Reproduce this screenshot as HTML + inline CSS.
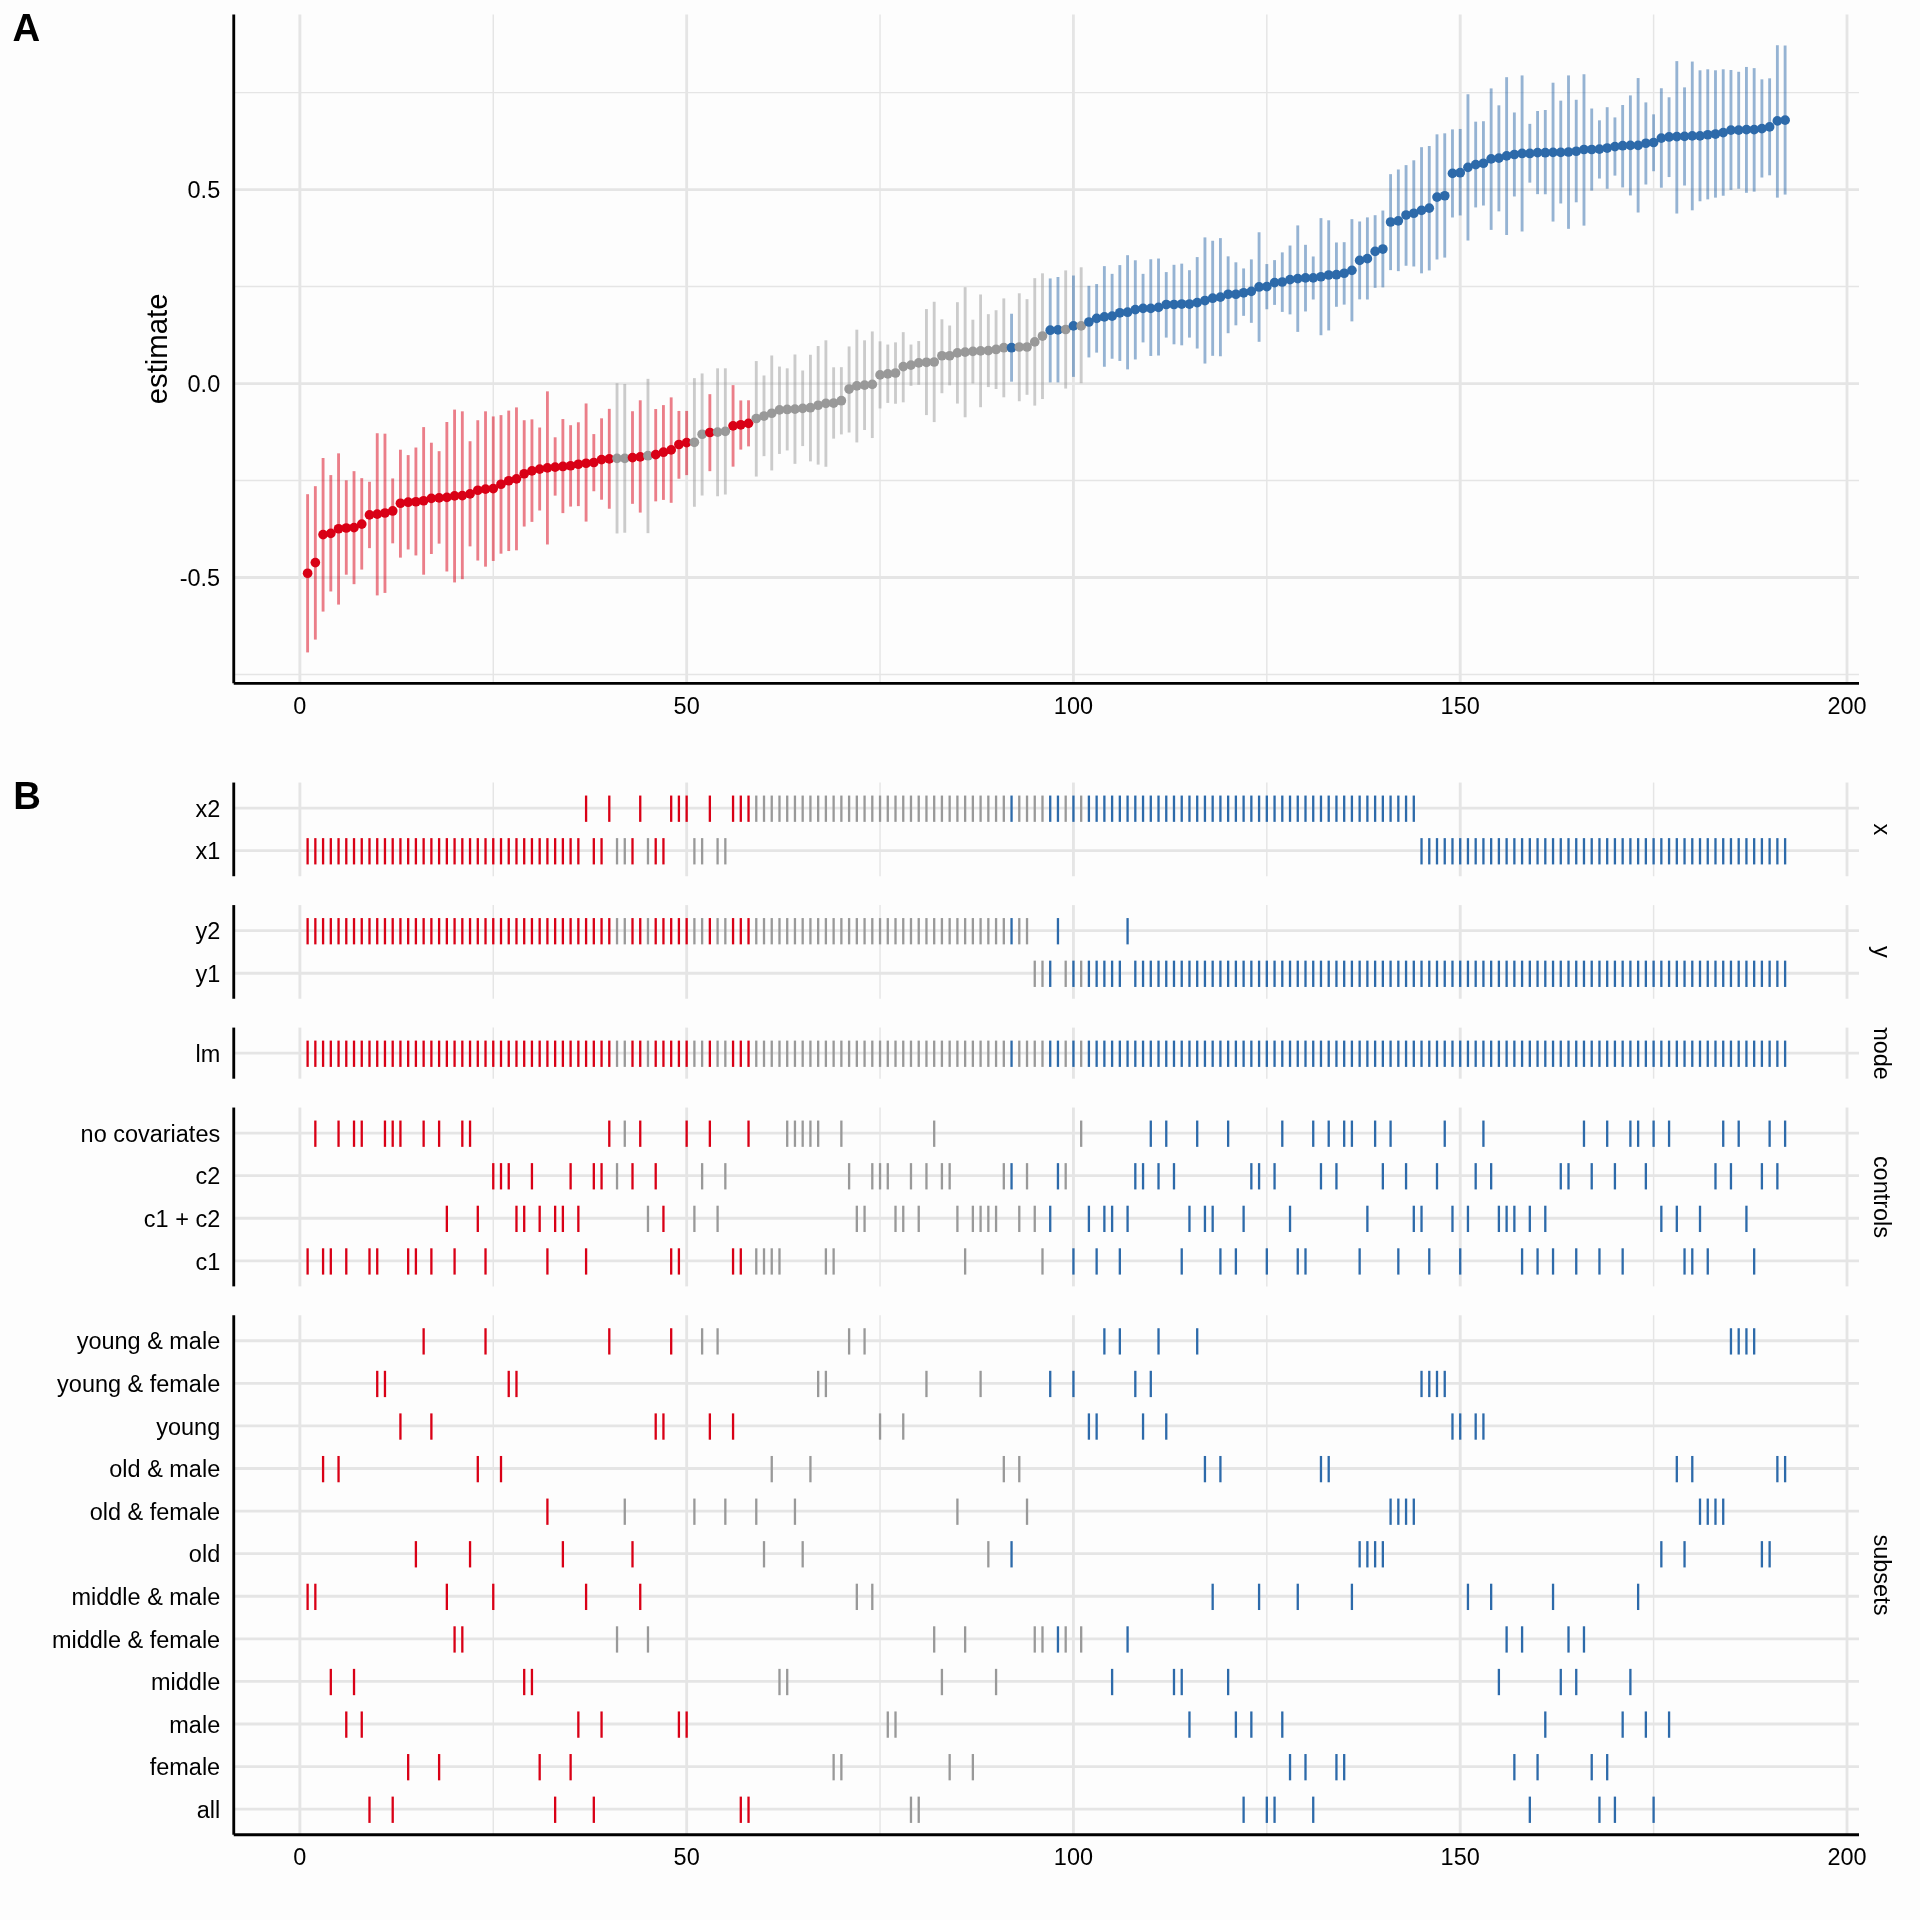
<!DOCTYPE html><html><head><meta charset="utf-8"><title>Specification curve</title><style>
html,body{margin:0;padding:0;background:#FDFDFD;}
svg{display:block;will-change:transform;}
text{font-family:"Liberation Sans", Arial, Helvetica, sans-serif;fill:#000;}
</style></head><body>
<svg width="1920" height="1920" viewBox="0 0 1920 1920">
<rect x="0" y="0" width="1920" height="1920" fill="#FDFDFD"/>
<g stroke="#E5E5E5" fill="none" stroke-linecap="butt">
<line x1="299.87" y1="14.5" x2="299.87" y2="683.3" stroke-width="2.85"/>
<line x1="493.26" y1="14.5" x2="493.26" y2="683.3" stroke-width="1.42"/>
<line x1="686.65" y1="14.5" x2="686.65" y2="683.3" stroke-width="2.85"/>
<line x1="880.04" y1="14.5" x2="880.04" y2="683.3" stroke-width="1.42"/>
<line x1="1073.43" y1="14.5" x2="1073.43" y2="683.3" stroke-width="2.85"/>
<line x1="1266.82" y1="14.5" x2="1266.82" y2="683.3" stroke-width="1.42"/>
<line x1="1460.21" y1="14.5" x2="1460.21" y2="683.3" stroke-width="2.85"/>
<line x1="1653.6" y1="14.5" x2="1653.6" y2="683.3" stroke-width="1.42"/>
<line x1="1846.99" y1="14.5" x2="1846.99" y2="683.3" stroke-width="2.85"/>
<line x1="234" y1="674.47" x2="1859" y2="674.47" stroke-width="1.42"/>
<line x1="234" y1="577.5" x2="1859" y2="577.5" stroke-width="2.85"/>
<line x1="234" y1="480.52" x2="1859" y2="480.52" stroke-width="1.42"/>
<line x1="234" y1="383.55" x2="1859" y2="383.55" stroke-width="2.85"/>
<line x1="234" y1="286.58" x2="1859" y2="286.58" stroke-width="1.42"/>
<line x1="234" y1="189.6" x2="1859" y2="189.6" stroke-width="2.85"/>
<line x1="234" y1="92.63" x2="1859" y2="92.63" stroke-width="1.42"/>
</g>
<g stroke="none">
<circle cx="307.61" cy="573.23" r="4.85" fill="#D90016"/>
<circle cx="315.34" cy="562.58" r="4.85" fill="#D90016"/>
<circle cx="323.08" cy="534.58" r="4.85" fill="#D90016"/>
<circle cx="330.81" cy="533.42" r="4.85" fill="#D90016"/>
<circle cx="338.55" cy="528.75" r="4.85" fill="#D90016"/>
<circle cx="346.28" cy="528.02" r="4.85" fill="#D90016"/>
<circle cx="354.02" cy="527.58" r="4.85" fill="#D90016"/>
<circle cx="361.75" cy="524.08" r="4.85" fill="#D90016"/>
<circle cx="369.49" cy="514.9" r="4.85" fill="#D90016"/>
<circle cx="377.23" cy="514.17" r="4.85" fill="#D90016"/>
<circle cx="384.96" cy="513" r="4.85" fill="#D90016"/>
<circle cx="392.7" cy="510.96" r="4.85" fill="#D90016"/>
<circle cx="400.43" cy="503.23" r="4.85" fill="#D90016"/>
<circle cx="408.17" cy="502.21" r="4.85" fill="#D90016"/>
<circle cx="415.9" cy="501.77" r="4.85" fill="#D90016"/>
<circle cx="423.64" cy="500.75" r="4.85" fill="#D90016"/>
<circle cx="431.38" cy="498.42" r="4.85" fill="#D90016"/>
<circle cx="439.11" cy="497.83" r="4.85" fill="#D90016"/>
<circle cx="446.85" cy="497.4" r="4.85" fill="#D90016"/>
<circle cx="454.58" cy="495.94" r="4.85" fill="#D90016"/>
<circle cx="462.32" cy="495.62" r="4.85" fill="#D90016"/>
<circle cx="470.05" cy="493.88" r="4.85" fill="#D90016"/>
<circle cx="477.79" cy="490.23" r="4.85" fill="#D90016"/>
<circle cx="485.52" cy="489.06" r="4.85" fill="#D90016"/>
<circle cx="493.26" cy="488.62" r="4.85" fill="#D90016"/>
<circle cx="501" cy="484.25" r="4.85" fill="#D90016"/>
<circle cx="508.73" cy="480.75" r="4.85" fill="#D90016"/>
<circle cx="516.47" cy="478.85" r="4.85" fill="#D90016"/>
<circle cx="524.2" cy="473.75" r="4.85" fill="#D90016"/>
<circle cx="531.94" cy="470.83" r="4.85" fill="#D90016"/>
<circle cx="539.67" cy="469.08" r="4.85" fill="#D90016"/>
<circle cx="547.41" cy="467.92" r="4.85" fill="#D90016"/>
<circle cx="555.14" cy="467.19" r="4.85" fill="#D90016"/>
<circle cx="562.88" cy="466.46" r="4.85" fill="#D90016"/>
<circle cx="570.62" cy="465.73" r="4.85" fill="#D90016"/>
<circle cx="578.35" cy="464.27" r="4.85" fill="#D90016"/>
<circle cx="586.09" cy="463.25" r="4.85" fill="#D90016"/>
<circle cx="593.82" cy="462.52" r="4.85" fill="#D90016"/>
<circle cx="601.56" cy="459.6" r="4.85" fill="#D90016"/>
<circle cx="609.29" cy="458.88" r="4.85" fill="#D90016"/>
<circle cx="617.03" cy="458.33" r="4.85" fill="#999999"/>
<circle cx="624.77" cy="458.33" r="4.85" fill="#999999"/>
<circle cx="632.5" cy="457.6" r="4.85" fill="#D90016"/>
<circle cx="640.24" cy="456.88" r="4.85" fill="#D90016"/>
<circle cx="647.97" cy="455.71" r="4.85" fill="#999999"/>
<circle cx="655.71" cy="454.69" r="4.85" fill="#D90016"/>
<circle cx="663.44" cy="452.21" r="4.85" fill="#D90016"/>
<circle cx="671.18" cy="449.88" r="4.85" fill="#D90016"/>
<circle cx="678.91" cy="444.48" r="4.85" fill="#D90016"/>
<circle cx="686.65" cy="442.58" r="4.85" fill="#D90016"/>
<circle cx="694.39" cy="442.29" r="4.85" fill="#999999"/>
<circle cx="702.12" cy="434.27" r="4.85" fill="#999999"/>
<circle cx="709.86" cy="432.52" r="4.85" fill="#D90016"/>
<circle cx="717.59" cy="432.08" r="4.85" fill="#999999"/>
<circle cx="725.33" cy="431.35" r="4.85" fill="#999999"/>
<circle cx="733.06" cy="425.81" r="4.85" fill="#D90016"/>
<circle cx="740.8" cy="424.79" r="4.85" fill="#D90016"/>
<circle cx="748.53" cy="423.33" r="4.85" fill="#D90016"/>
<circle cx="756.27" cy="418.52" r="4.85" fill="#999999"/>
<circle cx="764.01" cy="416.04" r="4.85" fill="#999999"/>
<circle cx="771.74" cy="413.25" r="4.85" fill="#999999"/>
<circle cx="779.48" cy="409.9" r="4.85" fill="#999999"/>
<circle cx="787.21" cy="409.46" r="4.85" fill="#999999"/>
<circle cx="794.95" cy="409.17" r="4.85" fill="#999999"/>
<circle cx="802.68" cy="408.44" r="4.85" fill="#999999"/>
<circle cx="810.42" cy="407.71" r="4.85" fill="#999999"/>
<circle cx="818.16" cy="405.23" r="4.85" fill="#999999"/>
<circle cx="825.89" cy="403.33" r="4.85" fill="#999999"/>
<circle cx="833.63" cy="403.04" r="4.85" fill="#999999"/>
<circle cx="841.36" cy="400.71" r="4.85" fill="#999999"/>
<circle cx="849.1" cy="389.04" r="4.85" fill="#999999"/>
<circle cx="856.83" cy="385.83" r="4.85" fill="#999999"/>
<circle cx="864.57" cy="385.1" r="4.85" fill="#999999"/>
<circle cx="872.3" cy="384.38" r="4.85" fill="#999999"/>
<circle cx="880.04" cy="374.9" r="4.85" fill="#999999"/>
<circle cx="887.78" cy="373.88" r="4.85" fill="#999999"/>
<circle cx="895.51" cy="373" r="4.85" fill="#999999"/>
<circle cx="903.25" cy="366.58" r="4.85" fill="#999999"/>
<circle cx="910.98" cy="365.12" r="4.85" fill="#999999"/>
<circle cx="918.72" cy="362.94" r="4.85" fill="#999999"/>
<circle cx="926.45" cy="362.29" r="4.85" fill="#999999"/>
<circle cx="934.19" cy="362" r="4.85" fill="#999999"/>
<circle cx="941.92" cy="355.73" r="4.85" fill="#999999"/>
<circle cx="949.66" cy="355.73" r="4.85" fill="#999999"/>
<circle cx="957.4" cy="352.81" r="4.85" fill="#999999"/>
<circle cx="965.13" cy="352.08" r="4.85" fill="#999999"/>
<circle cx="972.87" cy="351.35" r="4.85" fill="#999999"/>
<circle cx="980.6" cy="350.92" r="4.85" fill="#999999"/>
<circle cx="988.34" cy="350.62" r="4.85" fill="#999999"/>
<circle cx="996.07" cy="349.46" r="4.85" fill="#999999"/>
<circle cx="1003.81" cy="347.71" r="4.85" fill="#999999"/>
<circle cx="1011.55" cy="347.71" r="4.85" fill="#2D6AAA"/>
<circle cx="1019.28" cy="346.98" r="4.85" fill="#999999"/>
<circle cx="1027.02" cy="346.98" r="4.85" fill="#999999"/>
<circle cx="1034.75" cy="341.88" r="4.85" fill="#999999"/>
<circle cx="1042.49" cy="336.04" r="4.85" fill="#999999"/>
<circle cx="1050.22" cy="330.21" r="4.85" fill="#2D6AAA"/>
<circle cx="1057.96" cy="329.92" r="4.85" fill="#2D6AAA"/>
<circle cx="1065.69" cy="329.48" r="4.85" fill="#999999"/>
<circle cx="1073.43" cy="325.83" r="4.85" fill="#2D6AAA"/>
<circle cx="1081.17" cy="325.92" r="4.85" fill="#999999"/>
<circle cx="1088.9" cy="321.98" r="4.85" fill="#2D6AAA"/>
<circle cx="1096.64" cy="318.33" r="4.85" fill="#2D6AAA"/>
<circle cx="1104.37" cy="316.88" r="4.85" fill="#2D6AAA"/>
<circle cx="1112.11" cy="316.15" r="4.85" fill="#2D6AAA"/>
<circle cx="1119.84" cy="312.79" r="4.85" fill="#2D6AAA"/>
<circle cx="1127.58" cy="312.21" r="4.85" fill="#2D6AAA"/>
<circle cx="1135.31" cy="309.58" r="4.85" fill="#2D6AAA"/>
<circle cx="1143.05" cy="308.42" r="4.85" fill="#2D6AAA"/>
<circle cx="1150.79" cy="308.42" r="4.85" fill="#2D6AAA"/>
<circle cx="1158.52" cy="307.4" r="4.85" fill="#2D6AAA"/>
<circle cx="1166.26" cy="304.48" r="4.85" fill="#2D6AAA"/>
<circle cx="1173.99" cy="304.48" r="4.85" fill="#2D6AAA"/>
<circle cx="1181.73" cy="304.04" r="4.85" fill="#2D6AAA"/>
<circle cx="1189.46" cy="304.04" r="4.85" fill="#2D6AAA"/>
<circle cx="1197.2" cy="302.58" r="4.85" fill="#2D6AAA"/>
<circle cx="1204.94" cy="300.54" r="4.85" fill="#2D6AAA"/>
<circle cx="1212.67" cy="298.21" r="4.85" fill="#2D6AAA"/>
<circle cx="1220.41" cy="297.19" r="4.85" fill="#2D6AAA"/>
<circle cx="1228.14" cy="294.27" r="4.85" fill="#2D6AAA"/>
<circle cx="1235.88" cy="294.25" r="4.85" fill="#2D6AAA"/>
<circle cx="1243.61" cy="292.79" r="4.85" fill="#2D6AAA"/>
<circle cx="1251.35" cy="291.33" r="4.85" fill="#2D6AAA"/>
<circle cx="1259.08" cy="286.96" r="4.85" fill="#2D6AAA"/>
<circle cx="1266.82" cy="286.67" r="4.85" fill="#2D6AAA"/>
<circle cx="1274.56" cy="282.58" r="4.85" fill="#2D6AAA"/>
<circle cx="1282.29" cy="282" r="4.85" fill="#2D6AAA"/>
<circle cx="1290.03" cy="279.67" r="4.85" fill="#2D6AAA"/>
<circle cx="1297.76" cy="278.65" r="4.85" fill="#2D6AAA"/>
<circle cx="1305.5" cy="277.92" r="4.85" fill="#2D6AAA"/>
<circle cx="1313.23" cy="277.92" r="4.85" fill="#2D6AAA"/>
<circle cx="1320.97" cy="276.75" r="4.85" fill="#2D6AAA"/>
<circle cx="1328.7" cy="275" r="4.85" fill="#2D6AAA"/>
<circle cx="1336.44" cy="274.71" r="4.85" fill="#2D6AAA"/>
<circle cx="1344.18" cy="273.25" r="4.85" fill="#2D6AAA"/>
<circle cx="1351.91" cy="270.33" r="4.85" fill="#2D6AAA"/>
<circle cx="1359.65" cy="260.42" r="4.85" fill="#2D6AAA"/>
<circle cx="1367.38" cy="258.67" r="4.85" fill="#2D6AAA"/>
<circle cx="1375.12" cy="251.38" r="4.85" fill="#2D6AAA"/>
<circle cx="1382.85" cy="249.04" r="4.85" fill="#2D6AAA"/>
<circle cx="1390.59" cy="222" r="4.85" fill="#2D6AAA"/>
<circle cx="1398.33" cy="220.83" r="4.85" fill="#2D6AAA"/>
<circle cx="1406.06" cy="215" r="4.85" fill="#2D6AAA"/>
<circle cx="1413.8" cy="213.25" r="4.85" fill="#2D6AAA"/>
<circle cx="1421.53" cy="210.33" r="4.85" fill="#2D6AAA"/>
<circle cx="1429.27" cy="208.15" r="4.85" fill="#2D6AAA"/>
<circle cx="1437" cy="197.06" r="4.85" fill="#2D6AAA"/>
<circle cx="1444.74" cy="195.75" r="4.85" fill="#2D6AAA"/>
<circle cx="1452.47" cy="173.44" r="4.85" fill="#2D6AAA"/>
<circle cx="1460.21" cy="172.71" r="4.85" fill="#2D6AAA"/>
<circle cx="1467.95" cy="167.31" r="4.85" fill="#2D6AAA"/>
<circle cx="1475.68" cy="164.69" r="4.85" fill="#2D6AAA"/>
<circle cx="1483.42" cy="163.23" r="4.85" fill="#2D6AAA"/>
<circle cx="1491.15" cy="158.85" r="4.85" fill="#2D6AAA"/>
<circle cx="1498.89" cy="158.12" r="4.85" fill="#2D6AAA"/>
<circle cx="1506.62" cy="155.94" r="4.85" fill="#2D6AAA"/>
<circle cx="1514.36" cy="154.48" r="4.85" fill="#2D6AAA"/>
<circle cx="1522.09" cy="153.46" r="4.85" fill="#2D6AAA"/>
<circle cx="1529.83" cy="153.46" r="4.85" fill="#2D6AAA"/>
<circle cx="1537.57" cy="152.58" r="4.85" fill="#2D6AAA"/>
<circle cx="1545.3" cy="152.71" r="4.85" fill="#2D6AAA"/>
<circle cx="1553.04" cy="152.42" r="4.85" fill="#2D6AAA"/>
<circle cx="1560.77" cy="152.42" r="4.85" fill="#2D6AAA"/>
<circle cx="1568.51" cy="151.98" r="4.85" fill="#2D6AAA"/>
<circle cx="1576.24" cy="151.25" r="4.85" fill="#2D6AAA"/>
<circle cx="1583.98" cy="149.5" r="4.85" fill="#2D6AAA"/>
<circle cx="1591.72" cy="149.5" r="4.85" fill="#2D6AAA"/>
<circle cx="1599.45" cy="149.06" r="4.85" fill="#2D6AAA"/>
<circle cx="1607.19" cy="148.04" r="4.85" fill="#2D6AAA"/>
<circle cx="1614.92" cy="146.58" r="4.85" fill="#2D6AAA"/>
<circle cx="1622.66" cy="145.71" r="4.85" fill="#2D6AAA"/>
<circle cx="1630.39" cy="145.42" r="4.85" fill="#2D6AAA"/>
<circle cx="1638.13" cy="145.42" r="4.85" fill="#2D6AAA"/>
<circle cx="1645.86" cy="143.23" r="4.85" fill="#2D6AAA"/>
<circle cx="1653.6" cy="142.5" r="4.85" fill="#2D6AAA"/>
<circle cx="1661.34" cy="138.12" r="4.85" fill="#2D6AAA"/>
<circle cx="1669.07" cy="136.96" r="4.85" fill="#2D6AAA"/>
<circle cx="1676.81" cy="136.67" r="4.85" fill="#2D6AAA"/>
<circle cx="1684.54" cy="136.38" r="4.85" fill="#2D6AAA"/>
<circle cx="1692.28" cy="135.94" r="4.85" fill="#2D6AAA"/>
<circle cx="1700.01" cy="135.94" r="4.85" fill="#2D6AAA"/>
<circle cx="1707.75" cy="134.77" r="4.85" fill="#2D6AAA"/>
<circle cx="1715.48" cy="134.04" r="4.85" fill="#2D6AAA"/>
<circle cx="1723.22" cy="132.58" r="4.85" fill="#2D6AAA"/>
<circle cx="1730.96" cy="130.1" r="4.85" fill="#2D6AAA"/>
<circle cx="1738.69" cy="130.1" r="4.85" fill="#2D6AAA"/>
<circle cx="1746.43" cy="129.67" r="4.85" fill="#2D6AAA"/>
<circle cx="1754.16" cy="129.67" r="4.85" fill="#2D6AAA"/>
<circle cx="1761.9" cy="128.65" r="4.85" fill="#2D6AAA"/>
<circle cx="1769.63" cy="126.9" r="4.85" fill="#2D6AAA"/>
<circle cx="1777.37" cy="120.92" r="4.85" fill="#2D6AAA"/>
<circle cx="1785.11" cy="120.19" r="4.85" fill="#2D6AAA"/>
</g>
<g stroke-linecap="butt" stroke-opacity="0.5" stroke-width="2.85">
<line x1="307.61" y1="494.19" x2="307.61" y2="652.42" stroke="#D90016"/>
<line x1="315.34" y1="486.17" x2="315.34" y2="639.58" stroke="#D90016"/>
<line x1="323.08" y1="458.02" x2="323.08" y2="611.58" stroke="#D90016"/>
<line x1="330.81" y1="475.08" x2="330.81" y2="591.46" stroke="#D90016"/>
<line x1="338.55" y1="453.35" x2="338.55" y2="604.58" stroke="#D90016"/>
<line x1="346.28" y1="480.33" x2="346.28" y2="574.69" stroke="#D90016"/>
<line x1="354.02" y1="471.15" x2="354.02" y2="584.17" stroke="#D90016"/>
<line x1="361.75" y1="478.15" x2="361.75" y2="569.58" stroke="#D90016"/>
<line x1="369.49" y1="481.79" x2="369.49" y2="548.15" stroke="#D90016"/>
<line x1="377.23" y1="433.23" x2="377.23" y2="595.4" stroke="#D90016"/>
<line x1="384.96" y1="433.67" x2="384.96" y2="592.92" stroke="#D90016"/>
<line x1="392.7" y1="478.44" x2="392.7" y2="543.33" stroke="#D90016"/>
<line x1="400.43" y1="449.71" x2="400.43" y2="557.62" stroke="#D90016"/>
<line x1="408.17" y1="455.1" x2="408.17" y2="549.46" stroke="#D90016"/>
<line x1="415.9" y1="447.52" x2="415.9" y2="555.44" stroke="#D90016"/>
<line x1="423.64" y1="427.1" x2="423.64" y2="574.69" stroke="#D90016"/>
<line x1="431.38" y1="442.71" x2="431.38" y2="553.98" stroke="#D90016"/>
<line x1="439.11" y1="451.17" x2="439.11" y2="543.62" stroke="#D90016"/>
<line x1="446.85" y1="422" x2="446.85" y2="571.48" stroke="#D90016"/>
<line x1="454.58" y1="409.6" x2="454.58" y2="582.42" stroke="#D90016"/>
<line x1="462.32" y1="411.33" x2="462.32" y2="579.19" stroke="#D90016"/>
<line x1="470.05" y1="441.23" x2="470.05" y2="546.38" stroke="#D90016"/>
<line x1="477.79" y1="420.23" x2="477.79" y2="560.52" stroke="#D90016"/>
<line x1="485.52" y1="411.33" x2="485.52" y2="566.65" stroke="#D90016"/>
<line x1="493.26" y1="416.44" x2="493.26" y2="560.96" stroke="#D90016"/>
<line x1="501" y1="415.12" x2="501" y2="553.67" stroke="#D90016"/>
<line x1="508.73" y1="410.6" x2="508.73" y2="551.04" stroke="#D90016"/>
<line x1="516.47" y1="407.4" x2="516.47" y2="550.31" stroke="#D90016"/>
<line x1="524.2" y1="420.23" x2="524.2" y2="526.54" stroke="#D90016"/>
<line x1="531.94" y1="419.35" x2="531.94" y2="521.88" stroke="#D90016"/>
<line x1="539.67" y1="427.52" x2="539.67" y2="510.5" stroke="#D90016"/>
<line x1="547.41" y1="391.35" x2="547.41" y2="544.48" stroke="#D90016"/>
<line x1="555.14" y1="437.29" x2="555.14" y2="495.62" stroke="#D90016"/>
<line x1="562.88" y1="419.06" x2="562.88" y2="513.12" stroke="#D90016"/>
<line x1="570.62" y1="425.19" x2="570.62" y2="506.56" stroke="#D90016"/>
<line x1="578.35" y1="422.27" x2="578.35" y2="506.12" stroke="#D90016"/>
<line x1="586.09" y1="403.46" x2="586.09" y2="521.58" stroke="#D90016"/>
<line x1="593.82" y1="434.08" x2="593.82" y2="491.25" stroke="#D90016"/>
<line x1="601.56" y1="418.33" x2="601.56" y2="499.71" stroke="#D90016"/>
<line x1="609.29" y1="408.85" x2="609.29" y2="508.75" stroke="#D90016"/>
<line x1="617.03" y1="383.23" x2="617.03" y2="533.44" stroke="#999999"/>
<line x1="624.77" y1="383.96" x2="624.77" y2="532.71" stroke="#999999"/>
<line x1="632.5" y1="411.23" x2="632.5" y2="503.83" stroke="#D90016"/>
<line x1="640.24" y1="400.29" x2="640.24" y2="512.58" stroke="#D90016"/>
<line x1="647.97" y1="378.85" x2="647.97" y2="533.15" stroke="#999999"/>
<line x1="655.71" y1="409.04" x2="655.71" y2="501.35" stroke="#D90016"/>
<line x1="663.44" y1="405.1" x2="663.44" y2="499.9" stroke="#D90016"/>
<line x1="671.18" y1="397.38" x2="671.18" y2="502.81" stroke="#D90016"/>
<line x1="678.91" y1="410.94" x2="678.91" y2="478.75" stroke="#D90016"/>
<line x1="686.65" y1="410.94" x2="686.65" y2="475.1" stroke="#D90016"/>
<line x1="694.39" y1="378.12" x2="694.39" y2="506.75" stroke="#999999"/>
<line x1="702.12" y1="373.46" x2="702.12" y2="495.52" stroke="#999999"/>
<line x1="709.86" y1="394.17" x2="709.86" y2="471.17" stroke="#D90016"/>
<line x1="717.59" y1="368.35" x2="717.59" y2="496.25" stroke="#999999"/>
<line x1="725.33" y1="368.35" x2="725.33" y2="494.5" stroke="#999999"/>
<line x1="733.06" y1="385.12" x2="733.06" y2="466.65" stroke="#D90016"/>
<line x1="740.8" y1="400.44" x2="740.8" y2="449.58" stroke="#D90016"/>
<line x1="748.53" y1="400.29" x2="748.53" y2="446.38" stroke="#D90016"/>
<line x1="756.27" y1="361.06" x2="756.27" y2="476.56" stroke="#999999"/>
<line x1="764.01" y1="375.5" x2="764.01" y2="456.15" stroke="#999999"/>
<line x1="771.74" y1="355.5" x2="771.74" y2="470.42" stroke="#999999"/>
<line x1="779.48" y1="366.58" x2="779.48" y2="453.94" stroke="#999999"/>
<line x1="787.21" y1="368.33" x2="787.21" y2="450.44" stroke="#999999"/>
<line x1="794.95" y1="354.48" x2="794.95" y2="463.85" stroke="#999999"/>
<line x1="802.68" y1="370.52" x2="802.68" y2="446.06" stroke="#999999"/>
<line x1="810.42" y1="354.77" x2="810.42" y2="461.38" stroke="#999999"/>
<line x1="818.16" y1="346.02" x2="818.16" y2="464.58" stroke="#999999"/>
<line x1="825.89" y1="340.33" x2="825.89" y2="466.77" stroke="#999999"/>
<line x1="833.63" y1="367.31" x2="833.63" y2="438.62" stroke="#999999"/>
<line x1="841.36" y1="367.17" x2="841.36" y2="434.4" stroke="#999999"/>
<line x1="849.1" y1="346.46" x2="849.1" y2="432.5" stroke="#999999"/>
<line x1="856.83" y1="329.69" x2="856.83" y2="442.42" stroke="#999999"/>
<line x1="864.57" y1="340.33" x2="864.57" y2="430.02" stroke="#999999"/>
<line x1="872.3" y1="331.44" x2="872.3" y2="438.04" stroke="#999999"/>
<line x1="880.04" y1="341.35" x2="880.04" y2="408.44" stroke="#999999"/>
<line x1="887.78" y1="344.56" x2="887.78" y2="402.9" stroke="#999999"/>
<line x1="895.51" y1="342.38" x2="895.51" y2="403.77" stroke="#999999"/>
<line x1="903.25" y1="332.17" x2="903.25" y2="402.31" stroke="#999999"/>
<line x1="910.98" y1="344.56" x2="910.98" y2="385.83" stroke="#999999"/>
<line x1="918.72" y1="341.06" x2="918.72" y2="384.81" stroke="#999999"/>
<line x1="926.45" y1="309.06" x2="926.45" y2="415.08" stroke="#999999"/>
<line x1="934.19" y1="301.77" x2="934.19" y2="422.08" stroke="#999999"/>
<line x1="941.92" y1="319.27" x2="941.92" y2="393.21" stroke="#999999"/>
<line x1="949.66" y1="325.54" x2="949.66" y2="385.33" stroke="#999999"/>
<line x1="957.4" y1="302.21" x2="957.4" y2="403.56" stroke="#999999"/>
<line x1="965.13" y1="287.19" x2="965.13" y2="417.27" stroke="#999999"/>
<line x1="972.87" y1="319.71" x2="972.87" y2="383.44" stroke="#999999"/>
<line x1="980.6" y1="294.48" x2="980.6" y2="407.21" stroke="#999999"/>
<line x1="988.34" y1="314.17" x2="988.34" y2="387.08" stroke="#999999"/>
<line x1="996.07" y1="310.23" x2="996.07" y2="388.98" stroke="#999999"/>
<line x1="1003.81" y1="298.42" x2="1003.81" y2="397.29" stroke="#999999"/>
<line x1="1011.55" y1="313.73" x2="1011.55" y2="381.69" stroke="#2D6AAA"/>
<line x1="1019.28" y1="293.31" x2="1019.28" y2="401.23" stroke="#999999"/>
<line x1="1027.02" y1="299.15" x2="1027.02" y2="394.81" stroke="#999999"/>
<line x1="1034.75" y1="278.15" x2="1034.75" y2="405.6" stroke="#999999"/>
<line x1="1042.49" y1="273.33" x2="1042.49" y2="399.04" stroke="#999999"/>
<line x1="1050.22" y1="278.44" x2="1050.22" y2="382.42" stroke="#2D6AAA"/>
<line x1="1057.96" y1="276.98" x2="1057.96" y2="382.42" stroke="#2D6AAA"/>
<line x1="1065.69" y1="270.42" x2="1065.69" y2="388.54" stroke="#999999"/>
<line x1="1073.43" y1="275.52" x2="1073.43" y2="376.88" stroke="#2D6AAA"/>
<line x1="1081.17" y1="267.29" x2="1081.17" y2="383.23" stroke="#999999"/>
<line x1="1088.9" y1="285.81" x2="1088.9" y2="357.42" stroke="#2D6AAA"/>
<line x1="1096.64" y1="284.06" x2="1096.64" y2="352.6" stroke="#2D6AAA"/>
<line x1="1104.37" y1="266.12" x2="1104.37" y2="366.75" stroke="#2D6AAA"/>
<line x1="1112.11" y1="273.85" x2="1112.11" y2="358.73" stroke="#2D6AAA"/>
<line x1="1119.84" y1="265.1" x2="1119.84" y2="360.92" stroke="#2D6AAA"/>
<line x1="1127.58" y1="255.19" x2="1127.58" y2="369.38" stroke="#2D6AAA"/>
<line x1="1135.31" y1="260.29" x2="1135.31" y2="359.46" stroke="#2D6AAA"/>
<line x1="1143.05" y1="273.85" x2="1143.05" y2="342.4" stroke="#2D6AAA"/>
<line x1="1150.79" y1="259.27" x2="1150.79" y2="355.96" stroke="#2D6AAA"/>
<line x1="1158.52" y1="258.54" x2="1158.52" y2="355.52" stroke="#2D6AAA"/>
<line x1="1166.26" y1="272.1" x2="1166.26" y2="337.58" stroke="#2D6AAA"/>
<line x1="1173.99" y1="264.81" x2="1173.99" y2="344.29" stroke="#2D6AAA"/>
<line x1="1181.73" y1="263.65" x2="1181.73" y2="345.31" stroke="#2D6AAA"/>
<line x1="1189.46" y1="270.21" x2="1189.46" y2="337.58" stroke="#2D6AAA"/>
<line x1="1197.2" y1="257.08" x2="1197.2" y2="348.52" stroke="#2D6AAA"/>
<line x1="1204.94" y1="237.4" x2="1204.94" y2="363.54" stroke="#2D6AAA"/>
<line x1="1212.67" y1="240.75" x2="1212.67" y2="355.81" stroke="#2D6AAA"/>
<line x1="1220.41" y1="238.12" x2="1220.41" y2="356.25" stroke="#2D6AAA"/>
<line x1="1228.14" y1="256.35" x2="1228.14" y2="333.21" stroke="#2D6AAA"/>
<line x1="1235.88" y1="262.31" x2="1235.88" y2="325.31" stroke="#2D6AAA"/>
<line x1="1243.61" y1="268.44" x2="1243.61" y2="315.83" stroke="#2D6AAA"/>
<line x1="1251.35" y1="259.4" x2="1251.35" y2="322.83" stroke="#2D6AAA"/>
<line x1="1259.08" y1="232.27" x2="1259.08" y2="341.79" stroke="#2D6AAA"/>
<line x1="1266.82" y1="264.06" x2="1266.82" y2="309.27" stroke="#2D6AAA"/>
<line x1="1274.56" y1="260.12" x2="1274.56" y2="304.9" stroke="#2D6AAA"/>
<line x1="1282.29" y1="252.4" x2="1282.29" y2="311.9" stroke="#2D6AAA"/>
<line x1="1290.03" y1="245.54" x2="1290.03" y2="314.38" stroke="#2D6AAA"/>
<line x1="1297.76" y1="225.42" x2="1297.76" y2="331.88" stroke="#2D6AAA"/>
<line x1="1305.5" y1="244.81" x2="1305.5" y2="311.46" stroke="#2D6AAA"/>
<line x1="1313.23" y1="256.48" x2="1313.23" y2="299.5" stroke="#2D6AAA"/>
<line x1="1320.97" y1="218.12" x2="1320.97" y2="335.23" stroke="#2D6AAA"/>
<line x1="1328.7" y1="220.31" x2="1328.7" y2="330.42" stroke="#2D6AAA"/>
<line x1="1336.44" y1="242.48" x2="1336.44" y2="306.79" stroke="#2D6AAA"/>
<line x1="1344.18" y1="242.19" x2="1344.18" y2="304.6" stroke="#2D6AAA"/>
<line x1="1351.91" y1="219.15" x2="1351.91" y2="321.38" stroke="#2D6AAA"/>
<line x1="1359.65" y1="221.48" x2="1359.65" y2="299.35" stroke="#2D6AAA"/>
<line x1="1367.38" y1="217.4" x2="1367.38" y2="299.5" stroke="#2D6AAA"/>
<line x1="1375.12" y1="215.21" x2="1375.12" y2="287.83" stroke="#2D6AAA"/>
<line x1="1382.85" y1="210.54" x2="1382.85" y2="287.4" stroke="#2D6AAA"/>
<line x1="1390.59" y1="174.17" x2="1390.59" y2="270.12" stroke="#2D6AAA"/>
<line x1="1398.33" y1="169.5" x2="1398.33" y2="271.15" stroke="#2D6AAA"/>
<line x1="1406.06" y1="165.12" x2="1406.06" y2="265.75" stroke="#2D6AAA"/>
<line x1="1413.8" y1="160.31" x2="1413.8" y2="266.48" stroke="#2D6AAA"/>
<line x1="1421.53" y1="147.19" x2="1421.53" y2="273.33" stroke="#2D6AAA"/>
<line x1="1429.27" y1="146.02" x2="1429.27" y2="270.42" stroke="#2D6AAA"/>
<line x1="1437" y1="134.35" x2="1437" y2="259.48" stroke="#2D6AAA"/>
<line x1="1444.74" y1="133.33" x2="1444.74" y2="257.58" stroke="#2D6AAA"/>
<line x1="1452.47" y1="129.4" x2="1452.47" y2="217.48" stroke="#2D6AAA"/>
<line x1="1460.21" y1="128.96" x2="1460.21" y2="215.44" stroke="#2D6AAA"/>
<line x1="1467.95" y1="94.25" x2="1467.95" y2="240.52" stroke="#2D6AAA"/>
<line x1="1475.68" y1="121.67" x2="1475.68" y2="207.42" stroke="#2D6AAA"/>
<line x1="1483.42" y1="121.23" x2="1483.42" y2="205.52" stroke="#2D6AAA"/>
<line x1="1491.15" y1="88.42" x2="1491.15" y2="229.88" stroke="#2D6AAA"/>
<line x1="1498.89" y1="105.33" x2="1498.89" y2="211.35" stroke="#2D6AAA"/>
<line x1="1506.62" y1="77.19" x2="1506.62" y2="234.98" stroke="#2D6AAA"/>
<line x1="1514.36" y1="112.48" x2="1514.36" y2="196.48" stroke="#2D6AAA"/>
<line x1="1522.09" y1="75.44" x2="1522.09" y2="231.48" stroke="#2D6AAA"/>
<line x1="1529.83" y1="123.85" x2="1529.83" y2="182.62" stroke="#2D6AAA"/>
<line x1="1537.57" y1="111.02" x2="1537.57" y2="194.15" stroke="#2D6AAA"/>
<line x1="1545.3" y1="109.98" x2="1545.3" y2="194.27" stroke="#2D6AAA"/>
<line x1="1553.04" y1="82.71" x2="1553.04" y2="221.54" stroke="#2D6AAA"/>
<line x1="1560.77" y1="100.65" x2="1560.77" y2="203.46" stroke="#2D6AAA"/>
<line x1="1568.51" y1="75.42" x2="1568.51" y2="228.83" stroke="#2D6AAA"/>
<line x1="1576.24" y1="99.77" x2="1576.24" y2="202.29" stroke="#2D6AAA"/>
<line x1="1583.98" y1="74.25" x2="1583.98" y2="225.62" stroke="#2D6AAA"/>
<line x1="1591.72" y1="108.52" x2="1591.72" y2="190.62" stroke="#2D6AAA"/>
<line x1="1599.45" y1="120.33" x2="1599.45" y2="178.52" stroke="#2D6AAA"/>
<line x1="1607.19" y1="107.21" x2="1607.19" y2="188.73" stroke="#2D6AAA"/>
<line x1="1614.92" y1="117.42" x2="1614.92" y2="175.6" stroke="#2D6AAA"/>
<line x1="1622.66" y1="105.02" x2="1622.66" y2="187.42" stroke="#2D6AAA"/>
<line x1="1630.39" y1="95.4" x2="1630.39" y2="195.44" stroke="#2D6AAA"/>
<line x1="1638.13" y1="78.04" x2="1638.13" y2="212.5" stroke="#2D6AAA"/>
<line x1="1645.86" y1="102.4" x2="1645.86" y2="184.5" stroke="#2D6AAA"/>
<line x1="1653.6" y1="114.35" x2="1653.6" y2="171.23" stroke="#2D6AAA"/>
<line x1="1661.34" y1="88.25" x2="1661.34" y2="187.71" stroke="#2D6AAA"/>
<line x1="1669.07" y1="97.29" x2="1669.07" y2="177.06" stroke="#2D6AAA"/>
<line x1="1676.81" y1="61.12" x2="1676.81" y2="213.52" stroke="#2D6AAA"/>
<line x1="1684.54" y1="87.38" x2="1684.54" y2="185.52" stroke="#2D6AAA"/>
<line x1="1692.28" y1="61.56" x2="1692.28" y2="210.31" stroke="#2D6AAA"/>
<line x1="1700.01" y1="70.31" x2="1700.01" y2="201.27" stroke="#2D6AAA"/>
<line x1="1707.75" y1="69.29" x2="1707.75" y2="199.38" stroke="#2D6AAA"/>
<line x1="1715.48" y1="70.31" x2="1715.48" y2="197.62" stroke="#2D6AAA"/>
<line x1="1723.22" y1="69.29" x2="1723.22" y2="195.73" stroke="#2D6AAA"/>
<line x1="1730.96" y1="70.02" x2="1730.96" y2="189.9" stroke="#2D6AAA"/>
<line x1="1738.69" y1="71.77" x2="1738.69" y2="188.73" stroke="#2D6AAA"/>
<line x1="1746.43" y1="66.96" x2="1746.43" y2="192.81" stroke="#2D6AAA"/>
<line x1="1754.16" y1="68.12" x2="1754.16" y2="191.65" stroke="#2D6AAA"/>
<line x1="1761.9" y1="79.35" x2="1761.9" y2="177.5" stroke="#2D6AAA"/>
<line x1="1769.63" y1="78.33" x2="1769.63" y2="175.31" stroke="#2D6AAA"/>
<line x1="1777.37" y1="45.23" x2="1777.37" y2="197.62" stroke="#2D6AAA"/>
<line x1="1785.11" y1="45.52" x2="1785.11" y2="194.56" stroke="#2D6AAA"/>
</g>
<g stroke="#000" stroke-width="2.85" stroke-linecap="butt">
<line x1="233.75" y1="14.5" x2="233.75" y2="683.3"/>
<line x1="233.75" y1="683.3" x2="1859" y2="683.3"/>
</g>
<g font-size="23.47">
<text x="220.2" y="586.2" text-anchor="end">-0.5</text>
<text x="220.2" y="392.25" text-anchor="end">0.0</text>
<text x="220.2" y="198.3" text-anchor="end">0.5</text>
<text x="299.87" y="714.4" text-anchor="middle">0</text>
<text x="686.65" y="714.4" text-anchor="middle">50</text>
<text x="1073.43" y="714.4" text-anchor="middle">100</text>
<text x="1460.21" y="714.4" text-anchor="middle">150</text>
<text x="1846.99" y="714.4" text-anchor="middle">200</text>
</g>
<text font-size="29.33" text-anchor="middle" transform="translate(166.5 348.9) rotate(-90)">estimate</text>
<text x="12.6" y="40.9" font-size="38.3" font-weight="bold">A</text>
<text x="13.2" y="808.9" font-size="38.3" font-weight="bold">B</text>
<defs>
<clipPath id="cp0"><rect x="1860" y="782.55" width="60" height="93.68"/></clipPath>
<clipPath id="cp1"><rect x="1860" y="905.08" width="60" height="93.68"/></clipPath>
<clipPath id="cp2"><rect x="1860" y="1027.6" width="60" height="51.1"/></clipPath>
<clipPath id="cp3"><rect x="1860" y="1107.55" width="60" height="178.84"/></clipPath>
<clipPath id="cp4"><rect x="1860" y="1315.23" width="60" height="519.48"/></clipPath>
</defs>
<g stroke="#E5E5E5" fill="none" stroke-linecap="butt">
<line x1="299.87" y1="782.55" x2="299.87" y2="876.23" stroke-width="2.85"/>
<line x1="493.26" y1="782.55" x2="493.26" y2="876.23" stroke-width="1.42"/>
<line x1="686.65" y1="782.55" x2="686.65" y2="876.23" stroke-width="2.85"/>
<line x1="880.04" y1="782.55" x2="880.04" y2="876.23" stroke-width="1.42"/>
<line x1="1073.43" y1="782.55" x2="1073.43" y2="876.23" stroke-width="2.85"/>
<line x1="1266.82" y1="782.55" x2="1266.82" y2="876.23" stroke-width="1.42"/>
<line x1="1460.21" y1="782.55" x2="1460.21" y2="876.23" stroke-width="2.85"/>
<line x1="1653.6" y1="782.55" x2="1653.6" y2="876.23" stroke-width="1.42"/>
<line x1="1846.99" y1="782.55" x2="1846.99" y2="876.23" stroke-width="2.85"/>
<line x1="234" y1="808.1" x2="1859" y2="808.1" stroke-width="2.85"/>
<line x1="234" y1="850.68" x2="1859" y2="850.68" stroke-width="2.85"/>
</g>
<g stroke="none">
<rect x="584.94" y="795.55" width="2.3" height="26.3" fill="#D90016"/>
<rect x="608.14" y="795.55" width="2.3" height="26.3" fill="#D90016"/>
<rect x="639.09" y="795.55" width="2.3" height="26.3" fill="#D90016"/>
<rect x="670.03" y="795.55" width="2.3" height="26.3" fill="#D90016"/>
<rect x="677.76" y="795.55" width="2.3" height="26.3" fill="#D90016"/>
<rect x="685.5" y="795.55" width="2.3" height="26.3" fill="#D90016"/>
<rect x="708.71" y="795.55" width="2.3" height="26.3" fill="#D90016"/>
<rect x="731.91" y="795.55" width="2.3" height="26.3" fill="#D90016"/>
<rect x="739.65" y="795.55" width="2.3" height="26.3" fill="#D90016"/>
<rect x="747.38" y="795.55" width="2.3" height="26.3" fill="#D90016"/>
<rect x="755.12" y="795.55" width="2.3" height="26.3" fill="#999999"/>
<rect x="762.86" y="795.55" width="2.3" height="26.3" fill="#999999"/>
<rect x="770.59" y="795.55" width="2.3" height="26.3" fill="#999999"/>
<rect x="778.33" y="795.55" width="2.3" height="26.3" fill="#999999"/>
<rect x="786.06" y="795.55" width="2.3" height="26.3" fill="#999999"/>
<rect x="793.8" y="795.55" width="2.3" height="26.3" fill="#999999"/>
<rect x="801.53" y="795.55" width="2.3" height="26.3" fill="#999999"/>
<rect x="809.27" y="795.55" width="2.3" height="26.3" fill="#999999"/>
<rect x="817.01" y="795.55" width="2.3" height="26.3" fill="#999999"/>
<rect x="824.74" y="795.55" width="2.3" height="26.3" fill="#999999"/>
<rect x="832.48" y="795.55" width="2.3" height="26.3" fill="#999999"/>
<rect x="840.21" y="795.55" width="2.3" height="26.3" fill="#999999"/>
<rect x="847.95" y="795.55" width="2.3" height="26.3" fill="#999999"/>
<rect x="855.68" y="795.55" width="2.3" height="26.3" fill="#999999"/>
<rect x="863.42" y="795.55" width="2.3" height="26.3" fill="#999999"/>
<rect x="871.15" y="795.55" width="2.3" height="26.3" fill="#999999"/>
<rect x="878.89" y="795.55" width="2.3" height="26.3" fill="#999999"/>
<rect x="886.63" y="795.55" width="2.3" height="26.3" fill="#999999"/>
<rect x="894.36" y="795.55" width="2.3" height="26.3" fill="#999999"/>
<rect x="902.1" y="795.55" width="2.3" height="26.3" fill="#999999"/>
<rect x="909.83" y="795.55" width="2.3" height="26.3" fill="#999999"/>
<rect x="917.57" y="795.55" width="2.3" height="26.3" fill="#999999"/>
<rect x="925.3" y="795.55" width="2.3" height="26.3" fill="#999999"/>
<rect x="933.04" y="795.55" width="2.3" height="26.3" fill="#999999"/>
<rect x="940.77" y="795.55" width="2.3" height="26.3" fill="#999999"/>
<rect x="948.51" y="795.55" width="2.3" height="26.3" fill="#999999"/>
<rect x="956.25" y="795.55" width="2.3" height="26.3" fill="#999999"/>
<rect x="963.98" y="795.55" width="2.3" height="26.3" fill="#999999"/>
<rect x="971.72" y="795.55" width="2.3" height="26.3" fill="#999999"/>
<rect x="979.45" y="795.55" width="2.3" height="26.3" fill="#999999"/>
<rect x="987.19" y="795.55" width="2.3" height="26.3" fill="#999999"/>
<rect x="994.92" y="795.55" width="2.3" height="26.3" fill="#999999"/>
<rect x="1002.66" y="795.55" width="2.3" height="26.3" fill="#999999"/>
<rect x="1010.4" y="795.55" width="2.3" height="26.3" fill="#2D6AAA"/>
<rect x="1018.13" y="795.55" width="2.3" height="26.3" fill="#999999"/>
<rect x="1025.87" y="795.55" width="2.3" height="26.3" fill="#999999"/>
<rect x="1033.6" y="795.55" width="2.3" height="26.3" fill="#999999"/>
<rect x="1041.34" y="795.55" width="2.3" height="26.3" fill="#999999"/>
<rect x="1049.07" y="795.55" width="2.3" height="26.3" fill="#2D6AAA"/>
<rect x="1056.81" y="795.55" width="2.3" height="26.3" fill="#2D6AAA"/>
<rect x="1064.54" y="795.55" width="2.3" height="26.3" fill="#999999"/>
<rect x="1072.28" y="795.55" width="2.3" height="26.3" fill="#2D6AAA"/>
<rect x="1080.02" y="795.55" width="2.3" height="26.3" fill="#999999"/>
<rect x="1087.75" y="795.55" width="2.3" height="26.3" fill="#2D6AAA"/>
<rect x="1095.49" y="795.55" width="2.3" height="26.3" fill="#2D6AAA"/>
<rect x="1103.22" y="795.55" width="2.3" height="26.3" fill="#2D6AAA"/>
<rect x="1110.96" y="795.55" width="2.3" height="26.3" fill="#2D6AAA"/>
<rect x="1118.69" y="795.55" width="2.3" height="26.3" fill="#2D6AAA"/>
<rect x="1126.43" y="795.55" width="2.3" height="26.3" fill="#2D6AAA"/>
<rect x="1134.16" y="795.55" width="2.3" height="26.3" fill="#2D6AAA"/>
<rect x="1141.9" y="795.55" width="2.3" height="26.3" fill="#2D6AAA"/>
<rect x="1149.64" y="795.55" width="2.3" height="26.3" fill="#2D6AAA"/>
<rect x="1157.37" y="795.55" width="2.3" height="26.3" fill="#2D6AAA"/>
<rect x="1165.11" y="795.55" width="2.3" height="26.3" fill="#2D6AAA"/>
<rect x="1172.84" y="795.55" width="2.3" height="26.3" fill="#2D6AAA"/>
<rect x="1180.58" y="795.55" width="2.3" height="26.3" fill="#2D6AAA"/>
<rect x="1188.31" y="795.55" width="2.3" height="26.3" fill="#2D6AAA"/>
<rect x="1196.05" y="795.55" width="2.3" height="26.3" fill="#2D6AAA"/>
<rect x="1203.79" y="795.55" width="2.3" height="26.3" fill="#2D6AAA"/>
<rect x="1211.52" y="795.55" width="2.3" height="26.3" fill="#2D6AAA"/>
<rect x="1219.26" y="795.55" width="2.3" height="26.3" fill="#2D6AAA"/>
<rect x="1226.99" y="795.55" width="2.3" height="26.3" fill="#2D6AAA"/>
<rect x="1234.73" y="795.55" width="2.3" height="26.3" fill="#2D6AAA"/>
<rect x="1242.46" y="795.55" width="2.3" height="26.3" fill="#2D6AAA"/>
<rect x="1250.2" y="795.55" width="2.3" height="26.3" fill="#2D6AAA"/>
<rect x="1257.93" y="795.55" width="2.3" height="26.3" fill="#2D6AAA"/>
<rect x="1265.67" y="795.55" width="2.3" height="26.3" fill="#2D6AAA"/>
<rect x="1273.41" y="795.55" width="2.3" height="26.3" fill="#2D6AAA"/>
<rect x="1281.14" y="795.55" width="2.3" height="26.3" fill="#2D6AAA"/>
<rect x="1288.88" y="795.55" width="2.3" height="26.3" fill="#2D6AAA"/>
<rect x="1296.61" y="795.55" width="2.3" height="26.3" fill="#2D6AAA"/>
<rect x="1304.35" y="795.55" width="2.3" height="26.3" fill="#2D6AAA"/>
<rect x="1312.08" y="795.55" width="2.3" height="26.3" fill="#2D6AAA"/>
<rect x="1319.82" y="795.55" width="2.3" height="26.3" fill="#2D6AAA"/>
<rect x="1327.55" y="795.55" width="2.3" height="26.3" fill="#2D6AAA"/>
<rect x="1335.29" y="795.55" width="2.3" height="26.3" fill="#2D6AAA"/>
<rect x="1343.03" y="795.55" width="2.3" height="26.3" fill="#2D6AAA"/>
<rect x="1350.76" y="795.55" width="2.3" height="26.3" fill="#2D6AAA"/>
<rect x="1358.5" y="795.55" width="2.3" height="26.3" fill="#2D6AAA"/>
<rect x="1366.23" y="795.55" width="2.3" height="26.3" fill="#2D6AAA"/>
<rect x="1373.97" y="795.55" width="2.3" height="26.3" fill="#2D6AAA"/>
<rect x="1381.7" y="795.55" width="2.3" height="26.3" fill="#2D6AAA"/>
<rect x="1389.44" y="795.55" width="2.3" height="26.3" fill="#2D6AAA"/>
<rect x="1397.18" y="795.55" width="2.3" height="26.3" fill="#2D6AAA"/>
<rect x="1404.91" y="795.55" width="2.3" height="26.3" fill="#2D6AAA"/>
<rect x="1412.65" y="795.55" width="2.3" height="26.3" fill="#2D6AAA"/>
<rect x="306.46" y="838.13" width="2.3" height="26.3" fill="#D90016"/>
<rect x="314.19" y="838.13" width="2.3" height="26.3" fill="#D90016"/>
<rect x="321.93" y="838.13" width="2.3" height="26.3" fill="#D90016"/>
<rect x="329.66" y="838.13" width="2.3" height="26.3" fill="#D90016"/>
<rect x="337.4" y="838.13" width="2.3" height="26.3" fill="#D90016"/>
<rect x="345.13" y="838.13" width="2.3" height="26.3" fill="#D90016"/>
<rect x="352.87" y="838.13" width="2.3" height="26.3" fill="#D90016"/>
<rect x="360.6" y="838.13" width="2.3" height="26.3" fill="#D90016"/>
<rect x="368.34" y="838.13" width="2.3" height="26.3" fill="#D90016"/>
<rect x="376.08" y="838.13" width="2.3" height="26.3" fill="#D90016"/>
<rect x="383.81" y="838.13" width="2.3" height="26.3" fill="#D90016"/>
<rect x="391.55" y="838.13" width="2.3" height="26.3" fill="#D90016"/>
<rect x="399.28" y="838.13" width="2.3" height="26.3" fill="#D90016"/>
<rect x="407.02" y="838.13" width="2.3" height="26.3" fill="#D90016"/>
<rect x="414.75" y="838.13" width="2.3" height="26.3" fill="#D90016"/>
<rect x="422.49" y="838.13" width="2.3" height="26.3" fill="#D90016"/>
<rect x="430.23" y="838.13" width="2.3" height="26.3" fill="#D90016"/>
<rect x="437.96" y="838.13" width="2.3" height="26.3" fill="#D90016"/>
<rect x="445.7" y="838.13" width="2.3" height="26.3" fill="#D90016"/>
<rect x="453.43" y="838.13" width="2.3" height="26.3" fill="#D90016"/>
<rect x="461.17" y="838.13" width="2.3" height="26.3" fill="#D90016"/>
<rect x="468.9" y="838.13" width="2.3" height="26.3" fill="#D90016"/>
<rect x="476.64" y="838.13" width="2.3" height="26.3" fill="#D90016"/>
<rect x="484.37" y="838.13" width="2.3" height="26.3" fill="#D90016"/>
<rect x="492.11" y="838.13" width="2.3" height="26.3" fill="#D90016"/>
<rect x="499.85" y="838.13" width="2.3" height="26.3" fill="#D90016"/>
<rect x="507.58" y="838.13" width="2.3" height="26.3" fill="#D90016"/>
<rect x="515.32" y="838.13" width="2.3" height="26.3" fill="#D90016"/>
<rect x="523.05" y="838.13" width="2.3" height="26.3" fill="#D90016"/>
<rect x="530.79" y="838.13" width="2.3" height="26.3" fill="#D90016"/>
<rect x="538.52" y="838.13" width="2.3" height="26.3" fill="#D90016"/>
<rect x="546.26" y="838.13" width="2.3" height="26.3" fill="#D90016"/>
<rect x="553.99" y="838.13" width="2.3" height="26.3" fill="#D90016"/>
<rect x="561.73" y="838.13" width="2.3" height="26.3" fill="#D90016"/>
<rect x="569.47" y="838.13" width="2.3" height="26.3" fill="#D90016"/>
<rect x="577.2" y="838.13" width="2.3" height="26.3" fill="#D90016"/>
<rect x="592.67" y="838.13" width="2.3" height="26.3" fill="#D90016"/>
<rect x="600.41" y="838.13" width="2.3" height="26.3" fill="#D90016"/>
<rect x="615.88" y="838.13" width="2.3" height="26.3" fill="#999999"/>
<rect x="623.62" y="838.13" width="2.3" height="26.3" fill="#999999"/>
<rect x="631.35" y="838.13" width="2.3" height="26.3" fill="#D90016"/>
<rect x="646.82" y="838.13" width="2.3" height="26.3" fill="#999999"/>
<rect x="654.56" y="838.13" width="2.3" height="26.3" fill="#D90016"/>
<rect x="662.29" y="838.13" width="2.3" height="26.3" fill="#D90016"/>
<rect x="693.24" y="838.13" width="2.3" height="26.3" fill="#999999"/>
<rect x="700.97" y="838.13" width="2.3" height="26.3" fill="#999999"/>
<rect x="716.44" y="838.13" width="2.3" height="26.3" fill="#999999"/>
<rect x="724.18" y="838.13" width="2.3" height="26.3" fill="#999999"/>
<rect x="1420.38" y="838.13" width="2.3" height="26.3" fill="#2D6AAA"/>
<rect x="1428.12" y="838.13" width="2.3" height="26.3" fill="#2D6AAA"/>
<rect x="1435.85" y="838.13" width="2.3" height="26.3" fill="#2D6AAA"/>
<rect x="1443.59" y="838.13" width="2.3" height="26.3" fill="#2D6AAA"/>
<rect x="1451.32" y="838.13" width="2.3" height="26.3" fill="#2D6AAA"/>
<rect x="1459.06" y="838.13" width="2.3" height="26.3" fill="#2D6AAA"/>
<rect x="1466.8" y="838.13" width="2.3" height="26.3" fill="#2D6AAA"/>
<rect x="1474.53" y="838.13" width="2.3" height="26.3" fill="#2D6AAA"/>
<rect x="1482.27" y="838.13" width="2.3" height="26.3" fill="#2D6AAA"/>
<rect x="1490" y="838.13" width="2.3" height="26.3" fill="#2D6AAA"/>
<rect x="1497.74" y="838.13" width="2.3" height="26.3" fill="#2D6AAA"/>
<rect x="1505.47" y="838.13" width="2.3" height="26.3" fill="#2D6AAA"/>
<rect x="1513.21" y="838.13" width="2.3" height="26.3" fill="#2D6AAA"/>
<rect x="1520.94" y="838.13" width="2.3" height="26.3" fill="#2D6AAA"/>
<rect x="1528.68" y="838.13" width="2.3" height="26.3" fill="#2D6AAA"/>
<rect x="1536.42" y="838.13" width="2.3" height="26.3" fill="#2D6AAA"/>
<rect x="1544.15" y="838.13" width="2.3" height="26.3" fill="#2D6AAA"/>
<rect x="1551.89" y="838.13" width="2.3" height="26.3" fill="#2D6AAA"/>
<rect x="1559.62" y="838.13" width="2.3" height="26.3" fill="#2D6AAA"/>
<rect x="1567.36" y="838.13" width="2.3" height="26.3" fill="#2D6AAA"/>
<rect x="1575.09" y="838.13" width="2.3" height="26.3" fill="#2D6AAA"/>
<rect x="1582.83" y="838.13" width="2.3" height="26.3" fill="#2D6AAA"/>
<rect x="1590.57" y="838.13" width="2.3" height="26.3" fill="#2D6AAA"/>
<rect x="1598.3" y="838.13" width="2.3" height="26.3" fill="#2D6AAA"/>
<rect x="1606.04" y="838.13" width="2.3" height="26.3" fill="#2D6AAA"/>
<rect x="1613.77" y="838.13" width="2.3" height="26.3" fill="#2D6AAA"/>
<rect x="1621.51" y="838.13" width="2.3" height="26.3" fill="#2D6AAA"/>
<rect x="1629.24" y="838.13" width="2.3" height="26.3" fill="#2D6AAA"/>
<rect x="1636.98" y="838.13" width="2.3" height="26.3" fill="#2D6AAA"/>
<rect x="1644.71" y="838.13" width="2.3" height="26.3" fill="#2D6AAA"/>
<rect x="1652.45" y="838.13" width="2.3" height="26.3" fill="#2D6AAA"/>
<rect x="1660.19" y="838.13" width="2.3" height="26.3" fill="#2D6AAA"/>
<rect x="1667.92" y="838.13" width="2.3" height="26.3" fill="#2D6AAA"/>
<rect x="1675.66" y="838.13" width="2.3" height="26.3" fill="#2D6AAA"/>
<rect x="1683.39" y="838.13" width="2.3" height="26.3" fill="#2D6AAA"/>
<rect x="1691.13" y="838.13" width="2.3" height="26.3" fill="#2D6AAA"/>
<rect x="1698.86" y="838.13" width="2.3" height="26.3" fill="#2D6AAA"/>
<rect x="1706.6" y="838.13" width="2.3" height="26.3" fill="#2D6AAA"/>
<rect x="1714.33" y="838.13" width="2.3" height="26.3" fill="#2D6AAA"/>
<rect x="1722.07" y="838.13" width="2.3" height="26.3" fill="#2D6AAA"/>
<rect x="1729.81" y="838.13" width="2.3" height="26.3" fill="#2D6AAA"/>
<rect x="1737.54" y="838.13" width="2.3" height="26.3" fill="#2D6AAA"/>
<rect x="1745.28" y="838.13" width="2.3" height="26.3" fill="#2D6AAA"/>
<rect x="1753.01" y="838.13" width="2.3" height="26.3" fill="#2D6AAA"/>
<rect x="1760.75" y="838.13" width="2.3" height="26.3" fill="#2D6AAA"/>
<rect x="1768.48" y="838.13" width="2.3" height="26.3" fill="#2D6AAA"/>
<rect x="1776.22" y="838.13" width="2.3" height="26.3" fill="#2D6AAA"/>
<rect x="1783.96" y="838.13" width="2.3" height="26.3" fill="#2D6AAA"/>
</g>
<line x1="233.75" y1="782.55" x2="233.75" y2="876.23" stroke="#000" stroke-width="2.85"/>
<g font-size="23.47" text-anchor="end">
<text x="220.2" y="816.8">x2</text>
<text x="220.2" y="859.38">x1</text>
</g>
<g clip-path="url(#cp0)"><text font-size="23.47" fill="#1A1A1A" text-anchor="middle" transform="translate(1874 829.39) rotate(90)">x</text></g>
<g stroke="#E5E5E5" fill="none" stroke-linecap="butt">
<line x1="299.87" y1="905.08" x2="299.87" y2="998.75" stroke-width="2.85"/>
<line x1="493.26" y1="905.08" x2="493.26" y2="998.75" stroke-width="1.42"/>
<line x1="686.65" y1="905.08" x2="686.65" y2="998.75" stroke-width="2.85"/>
<line x1="880.04" y1="905.08" x2="880.04" y2="998.75" stroke-width="1.42"/>
<line x1="1073.43" y1="905.08" x2="1073.43" y2="998.75" stroke-width="2.85"/>
<line x1="1266.82" y1="905.08" x2="1266.82" y2="998.75" stroke-width="1.42"/>
<line x1="1460.21" y1="905.08" x2="1460.21" y2="998.75" stroke-width="2.85"/>
<line x1="1653.6" y1="905.08" x2="1653.6" y2="998.75" stroke-width="1.42"/>
<line x1="1846.99" y1="905.08" x2="1846.99" y2="998.75" stroke-width="2.85"/>
<line x1="234" y1="930.62" x2="1859" y2="930.62" stroke-width="2.85"/>
<line x1="234" y1="973.2" x2="1859" y2="973.2" stroke-width="2.85"/>
</g>
<g stroke="none">
<rect x="306.46" y="918.07" width="2.3" height="26.3" fill="#D90016"/>
<rect x="314.19" y="918.07" width="2.3" height="26.3" fill="#D90016"/>
<rect x="321.93" y="918.07" width="2.3" height="26.3" fill="#D90016"/>
<rect x="329.66" y="918.07" width="2.3" height="26.3" fill="#D90016"/>
<rect x="337.4" y="918.07" width="2.3" height="26.3" fill="#D90016"/>
<rect x="345.13" y="918.07" width="2.3" height="26.3" fill="#D90016"/>
<rect x="352.87" y="918.07" width="2.3" height="26.3" fill="#D90016"/>
<rect x="360.6" y="918.07" width="2.3" height="26.3" fill="#D90016"/>
<rect x="368.34" y="918.07" width="2.3" height="26.3" fill="#D90016"/>
<rect x="376.08" y="918.07" width="2.3" height="26.3" fill="#D90016"/>
<rect x="383.81" y="918.07" width="2.3" height="26.3" fill="#D90016"/>
<rect x="391.55" y="918.07" width="2.3" height="26.3" fill="#D90016"/>
<rect x="399.28" y="918.07" width="2.3" height="26.3" fill="#D90016"/>
<rect x="407.02" y="918.07" width="2.3" height="26.3" fill="#D90016"/>
<rect x="414.75" y="918.07" width="2.3" height="26.3" fill="#D90016"/>
<rect x="422.49" y="918.07" width="2.3" height="26.3" fill="#D90016"/>
<rect x="430.23" y="918.07" width="2.3" height="26.3" fill="#D90016"/>
<rect x="437.96" y="918.07" width="2.3" height="26.3" fill="#D90016"/>
<rect x="445.7" y="918.07" width="2.3" height="26.3" fill="#D90016"/>
<rect x="453.43" y="918.07" width="2.3" height="26.3" fill="#D90016"/>
<rect x="461.17" y="918.07" width="2.3" height="26.3" fill="#D90016"/>
<rect x="468.9" y="918.07" width="2.3" height="26.3" fill="#D90016"/>
<rect x="476.64" y="918.07" width="2.3" height="26.3" fill="#D90016"/>
<rect x="484.37" y="918.07" width="2.3" height="26.3" fill="#D90016"/>
<rect x="492.11" y="918.07" width="2.3" height="26.3" fill="#D90016"/>
<rect x="499.85" y="918.07" width="2.3" height="26.3" fill="#D90016"/>
<rect x="507.58" y="918.07" width="2.3" height="26.3" fill="#D90016"/>
<rect x="515.32" y="918.07" width="2.3" height="26.3" fill="#D90016"/>
<rect x="523.05" y="918.07" width="2.3" height="26.3" fill="#D90016"/>
<rect x="530.79" y="918.07" width="2.3" height="26.3" fill="#D90016"/>
<rect x="538.52" y="918.07" width="2.3" height="26.3" fill="#D90016"/>
<rect x="546.26" y="918.07" width="2.3" height="26.3" fill="#D90016"/>
<rect x="553.99" y="918.07" width="2.3" height="26.3" fill="#D90016"/>
<rect x="561.73" y="918.07" width="2.3" height="26.3" fill="#D90016"/>
<rect x="569.47" y="918.07" width="2.3" height="26.3" fill="#D90016"/>
<rect x="577.2" y="918.07" width="2.3" height="26.3" fill="#D90016"/>
<rect x="584.94" y="918.07" width="2.3" height="26.3" fill="#D90016"/>
<rect x="592.67" y="918.07" width="2.3" height="26.3" fill="#D90016"/>
<rect x="600.41" y="918.07" width="2.3" height="26.3" fill="#D90016"/>
<rect x="608.14" y="918.07" width="2.3" height="26.3" fill="#D90016"/>
<rect x="615.88" y="918.07" width="2.3" height="26.3" fill="#999999"/>
<rect x="623.62" y="918.07" width="2.3" height="26.3" fill="#999999"/>
<rect x="631.35" y="918.07" width="2.3" height="26.3" fill="#D90016"/>
<rect x="639.09" y="918.07" width="2.3" height="26.3" fill="#D90016"/>
<rect x="646.82" y="918.07" width="2.3" height="26.3" fill="#999999"/>
<rect x="654.56" y="918.07" width="2.3" height="26.3" fill="#D90016"/>
<rect x="662.29" y="918.07" width="2.3" height="26.3" fill="#D90016"/>
<rect x="670.03" y="918.07" width="2.3" height="26.3" fill="#D90016"/>
<rect x="677.76" y="918.07" width="2.3" height="26.3" fill="#D90016"/>
<rect x="685.5" y="918.07" width="2.3" height="26.3" fill="#D90016"/>
<rect x="693.24" y="918.07" width="2.3" height="26.3" fill="#999999"/>
<rect x="700.97" y="918.07" width="2.3" height="26.3" fill="#999999"/>
<rect x="708.71" y="918.07" width="2.3" height="26.3" fill="#D90016"/>
<rect x="716.44" y="918.07" width="2.3" height="26.3" fill="#999999"/>
<rect x="724.18" y="918.07" width="2.3" height="26.3" fill="#999999"/>
<rect x="731.91" y="918.07" width="2.3" height="26.3" fill="#D90016"/>
<rect x="739.65" y="918.07" width="2.3" height="26.3" fill="#D90016"/>
<rect x="747.38" y="918.07" width="2.3" height="26.3" fill="#D90016"/>
<rect x="755.12" y="918.07" width="2.3" height="26.3" fill="#999999"/>
<rect x="762.86" y="918.07" width="2.3" height="26.3" fill="#999999"/>
<rect x="770.59" y="918.07" width="2.3" height="26.3" fill="#999999"/>
<rect x="778.33" y="918.07" width="2.3" height="26.3" fill="#999999"/>
<rect x="786.06" y="918.07" width="2.3" height="26.3" fill="#999999"/>
<rect x="793.8" y="918.07" width="2.3" height="26.3" fill="#999999"/>
<rect x="801.53" y="918.07" width="2.3" height="26.3" fill="#999999"/>
<rect x="809.27" y="918.07" width="2.3" height="26.3" fill="#999999"/>
<rect x="817.01" y="918.07" width="2.3" height="26.3" fill="#999999"/>
<rect x="824.74" y="918.07" width="2.3" height="26.3" fill="#999999"/>
<rect x="832.48" y="918.07" width="2.3" height="26.3" fill="#999999"/>
<rect x="840.21" y="918.07" width="2.3" height="26.3" fill="#999999"/>
<rect x="847.95" y="918.07" width="2.3" height="26.3" fill="#999999"/>
<rect x="855.68" y="918.07" width="2.3" height="26.3" fill="#999999"/>
<rect x="863.42" y="918.07" width="2.3" height="26.3" fill="#999999"/>
<rect x="871.15" y="918.07" width="2.3" height="26.3" fill="#999999"/>
<rect x="878.89" y="918.07" width="2.3" height="26.3" fill="#999999"/>
<rect x="886.63" y="918.07" width="2.3" height="26.3" fill="#999999"/>
<rect x="894.36" y="918.07" width="2.3" height="26.3" fill="#999999"/>
<rect x="902.1" y="918.07" width="2.3" height="26.3" fill="#999999"/>
<rect x="909.83" y="918.07" width="2.3" height="26.3" fill="#999999"/>
<rect x="917.57" y="918.07" width="2.3" height="26.3" fill="#999999"/>
<rect x="925.3" y="918.07" width="2.3" height="26.3" fill="#999999"/>
<rect x="933.04" y="918.07" width="2.3" height="26.3" fill="#999999"/>
<rect x="940.77" y="918.07" width="2.3" height="26.3" fill="#999999"/>
<rect x="948.51" y="918.07" width="2.3" height="26.3" fill="#999999"/>
<rect x="956.25" y="918.07" width="2.3" height="26.3" fill="#999999"/>
<rect x="963.98" y="918.07" width="2.3" height="26.3" fill="#999999"/>
<rect x="971.72" y="918.07" width="2.3" height="26.3" fill="#999999"/>
<rect x="979.45" y="918.07" width="2.3" height="26.3" fill="#999999"/>
<rect x="987.19" y="918.07" width="2.3" height="26.3" fill="#999999"/>
<rect x="994.92" y="918.07" width="2.3" height="26.3" fill="#999999"/>
<rect x="1002.66" y="918.07" width="2.3" height="26.3" fill="#999999"/>
<rect x="1010.4" y="918.07" width="2.3" height="26.3" fill="#2D6AAA"/>
<rect x="1018.13" y="918.07" width="2.3" height="26.3" fill="#999999"/>
<rect x="1025.87" y="918.07" width="2.3" height="26.3" fill="#999999"/>
<rect x="1056.81" y="918.07" width="2.3" height="26.3" fill="#2D6AAA"/>
<rect x="1126.43" y="918.07" width="2.3" height="26.3" fill="#2D6AAA"/>
<rect x="1033.6" y="960.65" width="2.3" height="26.3" fill="#999999"/>
<rect x="1041.34" y="960.65" width="2.3" height="26.3" fill="#999999"/>
<rect x="1049.07" y="960.65" width="2.3" height="26.3" fill="#2D6AAA"/>
<rect x="1064.54" y="960.65" width="2.3" height="26.3" fill="#999999"/>
<rect x="1072.28" y="960.65" width="2.3" height="26.3" fill="#2D6AAA"/>
<rect x="1080.02" y="960.65" width="2.3" height="26.3" fill="#999999"/>
<rect x="1087.75" y="960.65" width="2.3" height="26.3" fill="#2D6AAA"/>
<rect x="1095.49" y="960.65" width="2.3" height="26.3" fill="#2D6AAA"/>
<rect x="1103.22" y="960.65" width="2.3" height="26.3" fill="#2D6AAA"/>
<rect x="1110.96" y="960.65" width="2.3" height="26.3" fill="#2D6AAA"/>
<rect x="1118.69" y="960.65" width="2.3" height="26.3" fill="#2D6AAA"/>
<rect x="1134.16" y="960.65" width="2.3" height="26.3" fill="#2D6AAA"/>
<rect x="1141.9" y="960.65" width="2.3" height="26.3" fill="#2D6AAA"/>
<rect x="1149.64" y="960.65" width="2.3" height="26.3" fill="#2D6AAA"/>
<rect x="1157.37" y="960.65" width="2.3" height="26.3" fill="#2D6AAA"/>
<rect x="1165.11" y="960.65" width="2.3" height="26.3" fill="#2D6AAA"/>
<rect x="1172.84" y="960.65" width="2.3" height="26.3" fill="#2D6AAA"/>
<rect x="1180.58" y="960.65" width="2.3" height="26.3" fill="#2D6AAA"/>
<rect x="1188.31" y="960.65" width="2.3" height="26.3" fill="#2D6AAA"/>
<rect x="1196.05" y="960.65" width="2.3" height="26.3" fill="#2D6AAA"/>
<rect x="1203.79" y="960.65" width="2.3" height="26.3" fill="#2D6AAA"/>
<rect x="1211.52" y="960.65" width="2.3" height="26.3" fill="#2D6AAA"/>
<rect x="1219.26" y="960.65" width="2.3" height="26.3" fill="#2D6AAA"/>
<rect x="1226.99" y="960.65" width="2.3" height="26.3" fill="#2D6AAA"/>
<rect x="1234.73" y="960.65" width="2.3" height="26.3" fill="#2D6AAA"/>
<rect x="1242.46" y="960.65" width="2.3" height="26.3" fill="#2D6AAA"/>
<rect x="1250.2" y="960.65" width="2.3" height="26.3" fill="#2D6AAA"/>
<rect x="1257.93" y="960.65" width="2.3" height="26.3" fill="#2D6AAA"/>
<rect x="1265.67" y="960.65" width="2.3" height="26.3" fill="#2D6AAA"/>
<rect x="1273.41" y="960.65" width="2.3" height="26.3" fill="#2D6AAA"/>
<rect x="1281.14" y="960.65" width="2.3" height="26.3" fill="#2D6AAA"/>
<rect x="1288.88" y="960.65" width="2.3" height="26.3" fill="#2D6AAA"/>
<rect x="1296.61" y="960.65" width="2.3" height="26.3" fill="#2D6AAA"/>
<rect x="1304.35" y="960.65" width="2.3" height="26.3" fill="#2D6AAA"/>
<rect x="1312.08" y="960.65" width="2.3" height="26.3" fill="#2D6AAA"/>
<rect x="1319.82" y="960.65" width="2.3" height="26.3" fill="#2D6AAA"/>
<rect x="1327.55" y="960.65" width="2.3" height="26.3" fill="#2D6AAA"/>
<rect x="1335.29" y="960.65" width="2.3" height="26.3" fill="#2D6AAA"/>
<rect x="1343.03" y="960.65" width="2.3" height="26.3" fill="#2D6AAA"/>
<rect x="1350.76" y="960.65" width="2.3" height="26.3" fill="#2D6AAA"/>
<rect x="1358.5" y="960.65" width="2.3" height="26.3" fill="#2D6AAA"/>
<rect x="1366.23" y="960.65" width="2.3" height="26.3" fill="#2D6AAA"/>
<rect x="1373.97" y="960.65" width="2.3" height="26.3" fill="#2D6AAA"/>
<rect x="1381.7" y="960.65" width="2.3" height="26.3" fill="#2D6AAA"/>
<rect x="1389.44" y="960.65" width="2.3" height="26.3" fill="#2D6AAA"/>
<rect x="1397.18" y="960.65" width="2.3" height="26.3" fill="#2D6AAA"/>
<rect x="1404.91" y="960.65" width="2.3" height="26.3" fill="#2D6AAA"/>
<rect x="1412.65" y="960.65" width="2.3" height="26.3" fill="#2D6AAA"/>
<rect x="1420.38" y="960.65" width="2.3" height="26.3" fill="#2D6AAA"/>
<rect x="1428.12" y="960.65" width="2.3" height="26.3" fill="#2D6AAA"/>
<rect x="1435.85" y="960.65" width="2.3" height="26.3" fill="#2D6AAA"/>
<rect x="1443.59" y="960.65" width="2.3" height="26.3" fill="#2D6AAA"/>
<rect x="1451.32" y="960.65" width="2.3" height="26.3" fill="#2D6AAA"/>
<rect x="1459.06" y="960.65" width="2.3" height="26.3" fill="#2D6AAA"/>
<rect x="1466.8" y="960.65" width="2.3" height="26.3" fill="#2D6AAA"/>
<rect x="1474.53" y="960.65" width="2.3" height="26.3" fill="#2D6AAA"/>
<rect x="1482.27" y="960.65" width="2.3" height="26.3" fill="#2D6AAA"/>
<rect x="1490" y="960.65" width="2.3" height="26.3" fill="#2D6AAA"/>
<rect x="1497.74" y="960.65" width="2.3" height="26.3" fill="#2D6AAA"/>
<rect x="1505.47" y="960.65" width="2.3" height="26.3" fill="#2D6AAA"/>
<rect x="1513.21" y="960.65" width="2.3" height="26.3" fill="#2D6AAA"/>
<rect x="1520.94" y="960.65" width="2.3" height="26.3" fill="#2D6AAA"/>
<rect x="1528.68" y="960.65" width="2.3" height="26.3" fill="#2D6AAA"/>
<rect x="1536.42" y="960.65" width="2.3" height="26.3" fill="#2D6AAA"/>
<rect x="1544.15" y="960.65" width="2.3" height="26.3" fill="#2D6AAA"/>
<rect x="1551.89" y="960.65" width="2.3" height="26.3" fill="#2D6AAA"/>
<rect x="1559.62" y="960.65" width="2.3" height="26.3" fill="#2D6AAA"/>
<rect x="1567.36" y="960.65" width="2.3" height="26.3" fill="#2D6AAA"/>
<rect x="1575.09" y="960.65" width="2.3" height="26.3" fill="#2D6AAA"/>
<rect x="1582.83" y="960.65" width="2.3" height="26.3" fill="#2D6AAA"/>
<rect x="1590.57" y="960.65" width="2.3" height="26.3" fill="#2D6AAA"/>
<rect x="1598.3" y="960.65" width="2.3" height="26.3" fill="#2D6AAA"/>
<rect x="1606.04" y="960.65" width="2.3" height="26.3" fill="#2D6AAA"/>
<rect x="1613.77" y="960.65" width="2.3" height="26.3" fill="#2D6AAA"/>
<rect x="1621.51" y="960.65" width="2.3" height="26.3" fill="#2D6AAA"/>
<rect x="1629.24" y="960.65" width="2.3" height="26.3" fill="#2D6AAA"/>
<rect x="1636.98" y="960.65" width="2.3" height="26.3" fill="#2D6AAA"/>
<rect x="1644.71" y="960.65" width="2.3" height="26.3" fill="#2D6AAA"/>
<rect x="1652.45" y="960.65" width="2.3" height="26.3" fill="#2D6AAA"/>
<rect x="1660.19" y="960.65" width="2.3" height="26.3" fill="#2D6AAA"/>
<rect x="1667.92" y="960.65" width="2.3" height="26.3" fill="#2D6AAA"/>
<rect x="1675.66" y="960.65" width="2.3" height="26.3" fill="#2D6AAA"/>
<rect x="1683.39" y="960.65" width="2.3" height="26.3" fill="#2D6AAA"/>
<rect x="1691.13" y="960.65" width="2.3" height="26.3" fill="#2D6AAA"/>
<rect x="1698.86" y="960.65" width="2.3" height="26.3" fill="#2D6AAA"/>
<rect x="1706.6" y="960.65" width="2.3" height="26.3" fill="#2D6AAA"/>
<rect x="1714.33" y="960.65" width="2.3" height="26.3" fill="#2D6AAA"/>
<rect x="1722.07" y="960.65" width="2.3" height="26.3" fill="#2D6AAA"/>
<rect x="1729.81" y="960.65" width="2.3" height="26.3" fill="#2D6AAA"/>
<rect x="1737.54" y="960.65" width="2.3" height="26.3" fill="#2D6AAA"/>
<rect x="1745.28" y="960.65" width="2.3" height="26.3" fill="#2D6AAA"/>
<rect x="1753.01" y="960.65" width="2.3" height="26.3" fill="#2D6AAA"/>
<rect x="1760.75" y="960.65" width="2.3" height="26.3" fill="#2D6AAA"/>
<rect x="1768.48" y="960.65" width="2.3" height="26.3" fill="#2D6AAA"/>
<rect x="1776.22" y="960.65" width="2.3" height="26.3" fill="#2D6AAA"/>
<rect x="1783.96" y="960.65" width="2.3" height="26.3" fill="#2D6AAA"/>
</g>
<line x1="233.75" y1="905.08" x2="233.75" y2="998.75" stroke="#000" stroke-width="2.85"/>
<g font-size="23.47" text-anchor="end">
<text x="220.2" y="939.32">y2</text>
<text x="220.2" y="981.9">y1</text>
</g>
<g clip-path="url(#cp1)"><text font-size="23.47" fill="#1A1A1A" text-anchor="middle" transform="translate(1874 951.91) rotate(90)">y</text></g>
<g stroke="#E5E5E5" fill="none" stroke-linecap="butt">
<line x1="299.87" y1="1027.6" x2="299.87" y2="1078.7" stroke-width="2.85"/>
<line x1="493.26" y1="1027.6" x2="493.26" y2="1078.7" stroke-width="1.42"/>
<line x1="686.65" y1="1027.6" x2="686.65" y2="1078.7" stroke-width="2.85"/>
<line x1="880.04" y1="1027.6" x2="880.04" y2="1078.7" stroke-width="1.42"/>
<line x1="1073.43" y1="1027.6" x2="1073.43" y2="1078.7" stroke-width="2.85"/>
<line x1="1266.82" y1="1027.6" x2="1266.82" y2="1078.7" stroke-width="1.42"/>
<line x1="1460.21" y1="1027.6" x2="1460.21" y2="1078.7" stroke-width="2.85"/>
<line x1="1653.6" y1="1027.6" x2="1653.6" y2="1078.7" stroke-width="1.42"/>
<line x1="1846.99" y1="1027.6" x2="1846.99" y2="1078.7" stroke-width="2.85"/>
<line x1="234" y1="1053.15" x2="1859" y2="1053.15" stroke-width="2.85"/>
</g>
<g stroke="none">
<rect x="306.46" y="1040.6" width="2.3" height="26.3" fill="#D90016"/>
<rect x="314.19" y="1040.6" width="2.3" height="26.3" fill="#D90016"/>
<rect x="321.93" y="1040.6" width="2.3" height="26.3" fill="#D90016"/>
<rect x="329.66" y="1040.6" width="2.3" height="26.3" fill="#D90016"/>
<rect x="337.4" y="1040.6" width="2.3" height="26.3" fill="#D90016"/>
<rect x="345.13" y="1040.6" width="2.3" height="26.3" fill="#D90016"/>
<rect x="352.87" y="1040.6" width="2.3" height="26.3" fill="#D90016"/>
<rect x="360.6" y="1040.6" width="2.3" height="26.3" fill="#D90016"/>
<rect x="368.34" y="1040.6" width="2.3" height="26.3" fill="#D90016"/>
<rect x="376.08" y="1040.6" width="2.3" height="26.3" fill="#D90016"/>
<rect x="383.81" y="1040.6" width="2.3" height="26.3" fill="#D90016"/>
<rect x="391.55" y="1040.6" width="2.3" height="26.3" fill="#D90016"/>
<rect x="399.28" y="1040.6" width="2.3" height="26.3" fill="#D90016"/>
<rect x="407.02" y="1040.6" width="2.3" height="26.3" fill="#D90016"/>
<rect x="414.75" y="1040.6" width="2.3" height="26.3" fill="#D90016"/>
<rect x="422.49" y="1040.6" width="2.3" height="26.3" fill="#D90016"/>
<rect x="430.23" y="1040.6" width="2.3" height="26.3" fill="#D90016"/>
<rect x="437.96" y="1040.6" width="2.3" height="26.3" fill="#D90016"/>
<rect x="445.7" y="1040.6" width="2.3" height="26.3" fill="#D90016"/>
<rect x="453.43" y="1040.6" width="2.3" height="26.3" fill="#D90016"/>
<rect x="461.17" y="1040.6" width="2.3" height="26.3" fill="#D90016"/>
<rect x="468.9" y="1040.6" width="2.3" height="26.3" fill="#D90016"/>
<rect x="476.64" y="1040.6" width="2.3" height="26.3" fill="#D90016"/>
<rect x="484.37" y="1040.6" width="2.3" height="26.3" fill="#D90016"/>
<rect x="492.11" y="1040.6" width="2.3" height="26.3" fill="#D90016"/>
<rect x="499.85" y="1040.6" width="2.3" height="26.3" fill="#D90016"/>
<rect x="507.58" y="1040.6" width="2.3" height="26.3" fill="#D90016"/>
<rect x="515.32" y="1040.6" width="2.3" height="26.3" fill="#D90016"/>
<rect x="523.05" y="1040.6" width="2.3" height="26.3" fill="#D90016"/>
<rect x="530.79" y="1040.6" width="2.3" height="26.3" fill="#D90016"/>
<rect x="538.52" y="1040.6" width="2.3" height="26.3" fill="#D90016"/>
<rect x="546.26" y="1040.6" width="2.3" height="26.3" fill="#D90016"/>
<rect x="553.99" y="1040.6" width="2.3" height="26.3" fill="#D90016"/>
<rect x="561.73" y="1040.6" width="2.3" height="26.3" fill="#D90016"/>
<rect x="569.47" y="1040.6" width="2.3" height="26.3" fill="#D90016"/>
<rect x="577.2" y="1040.6" width="2.3" height="26.3" fill="#D90016"/>
<rect x="584.94" y="1040.6" width="2.3" height="26.3" fill="#D90016"/>
<rect x="592.67" y="1040.6" width="2.3" height="26.3" fill="#D90016"/>
<rect x="600.41" y="1040.6" width="2.3" height="26.3" fill="#D90016"/>
<rect x="608.14" y="1040.6" width="2.3" height="26.3" fill="#D90016"/>
<rect x="615.88" y="1040.6" width="2.3" height="26.3" fill="#999999"/>
<rect x="623.62" y="1040.6" width="2.3" height="26.3" fill="#999999"/>
<rect x="631.35" y="1040.6" width="2.3" height="26.3" fill="#D90016"/>
<rect x="639.09" y="1040.6" width="2.3" height="26.3" fill="#D90016"/>
<rect x="646.82" y="1040.6" width="2.3" height="26.3" fill="#999999"/>
<rect x="654.56" y="1040.6" width="2.3" height="26.3" fill="#D90016"/>
<rect x="662.29" y="1040.6" width="2.3" height="26.3" fill="#D90016"/>
<rect x="670.03" y="1040.6" width="2.3" height="26.3" fill="#D90016"/>
<rect x="677.76" y="1040.6" width="2.3" height="26.3" fill="#D90016"/>
<rect x="685.5" y="1040.6" width="2.3" height="26.3" fill="#D90016"/>
<rect x="693.24" y="1040.6" width="2.3" height="26.3" fill="#999999"/>
<rect x="700.97" y="1040.6" width="2.3" height="26.3" fill="#999999"/>
<rect x="708.71" y="1040.6" width="2.3" height="26.3" fill="#D90016"/>
<rect x="716.44" y="1040.6" width="2.3" height="26.3" fill="#999999"/>
<rect x="724.18" y="1040.6" width="2.3" height="26.3" fill="#999999"/>
<rect x="731.91" y="1040.6" width="2.3" height="26.3" fill="#D90016"/>
<rect x="739.65" y="1040.6" width="2.3" height="26.3" fill="#D90016"/>
<rect x="747.38" y="1040.6" width="2.3" height="26.3" fill="#D90016"/>
<rect x="755.12" y="1040.6" width="2.3" height="26.3" fill="#999999"/>
<rect x="762.86" y="1040.6" width="2.3" height="26.3" fill="#999999"/>
<rect x="770.59" y="1040.6" width="2.3" height="26.3" fill="#999999"/>
<rect x="778.33" y="1040.6" width="2.3" height="26.3" fill="#999999"/>
<rect x="786.06" y="1040.6" width="2.3" height="26.3" fill="#999999"/>
<rect x="793.8" y="1040.6" width="2.3" height="26.3" fill="#999999"/>
<rect x="801.53" y="1040.6" width="2.3" height="26.3" fill="#999999"/>
<rect x="809.27" y="1040.6" width="2.3" height="26.3" fill="#999999"/>
<rect x="817.01" y="1040.6" width="2.3" height="26.3" fill="#999999"/>
<rect x="824.74" y="1040.6" width="2.3" height="26.3" fill="#999999"/>
<rect x="832.48" y="1040.6" width="2.3" height="26.3" fill="#999999"/>
<rect x="840.21" y="1040.6" width="2.3" height="26.3" fill="#999999"/>
<rect x="847.95" y="1040.6" width="2.3" height="26.3" fill="#999999"/>
<rect x="855.68" y="1040.6" width="2.3" height="26.3" fill="#999999"/>
<rect x="863.42" y="1040.6" width="2.3" height="26.3" fill="#999999"/>
<rect x="871.15" y="1040.6" width="2.3" height="26.3" fill="#999999"/>
<rect x="878.89" y="1040.6" width="2.3" height="26.3" fill="#999999"/>
<rect x="886.63" y="1040.6" width="2.3" height="26.3" fill="#999999"/>
<rect x="894.36" y="1040.6" width="2.3" height="26.3" fill="#999999"/>
<rect x="902.1" y="1040.6" width="2.3" height="26.3" fill="#999999"/>
<rect x="909.83" y="1040.6" width="2.3" height="26.3" fill="#999999"/>
<rect x="917.57" y="1040.6" width="2.3" height="26.3" fill="#999999"/>
<rect x="925.3" y="1040.6" width="2.3" height="26.3" fill="#999999"/>
<rect x="933.04" y="1040.6" width="2.3" height="26.3" fill="#999999"/>
<rect x="940.77" y="1040.6" width="2.3" height="26.3" fill="#999999"/>
<rect x="948.51" y="1040.6" width="2.3" height="26.3" fill="#999999"/>
<rect x="956.25" y="1040.6" width="2.3" height="26.3" fill="#999999"/>
<rect x="963.98" y="1040.6" width="2.3" height="26.3" fill="#999999"/>
<rect x="971.72" y="1040.6" width="2.3" height="26.3" fill="#999999"/>
<rect x="979.45" y="1040.6" width="2.3" height="26.3" fill="#999999"/>
<rect x="987.19" y="1040.6" width="2.3" height="26.3" fill="#999999"/>
<rect x="994.92" y="1040.6" width="2.3" height="26.3" fill="#999999"/>
<rect x="1002.66" y="1040.6" width="2.3" height="26.3" fill="#999999"/>
<rect x="1010.4" y="1040.6" width="2.3" height="26.3" fill="#2D6AAA"/>
<rect x="1018.13" y="1040.6" width="2.3" height="26.3" fill="#999999"/>
<rect x="1025.87" y="1040.6" width="2.3" height="26.3" fill="#999999"/>
<rect x="1033.6" y="1040.6" width="2.3" height="26.3" fill="#999999"/>
<rect x="1041.34" y="1040.6" width="2.3" height="26.3" fill="#999999"/>
<rect x="1049.07" y="1040.6" width="2.3" height="26.3" fill="#2D6AAA"/>
<rect x="1056.81" y="1040.6" width="2.3" height="26.3" fill="#2D6AAA"/>
<rect x="1064.54" y="1040.6" width="2.3" height="26.3" fill="#999999"/>
<rect x="1072.28" y="1040.6" width="2.3" height="26.3" fill="#2D6AAA"/>
<rect x="1080.02" y="1040.6" width="2.3" height="26.3" fill="#999999"/>
<rect x="1087.75" y="1040.6" width="2.3" height="26.3" fill="#2D6AAA"/>
<rect x="1095.49" y="1040.6" width="2.3" height="26.3" fill="#2D6AAA"/>
<rect x="1103.22" y="1040.6" width="2.3" height="26.3" fill="#2D6AAA"/>
<rect x="1110.96" y="1040.6" width="2.3" height="26.3" fill="#2D6AAA"/>
<rect x="1118.69" y="1040.6" width="2.3" height="26.3" fill="#2D6AAA"/>
<rect x="1126.43" y="1040.6" width="2.3" height="26.3" fill="#2D6AAA"/>
<rect x="1134.16" y="1040.6" width="2.3" height="26.3" fill="#2D6AAA"/>
<rect x="1141.9" y="1040.6" width="2.3" height="26.3" fill="#2D6AAA"/>
<rect x="1149.64" y="1040.6" width="2.3" height="26.3" fill="#2D6AAA"/>
<rect x="1157.37" y="1040.6" width="2.3" height="26.3" fill="#2D6AAA"/>
<rect x="1165.11" y="1040.6" width="2.3" height="26.3" fill="#2D6AAA"/>
<rect x="1172.84" y="1040.6" width="2.3" height="26.3" fill="#2D6AAA"/>
<rect x="1180.58" y="1040.6" width="2.3" height="26.3" fill="#2D6AAA"/>
<rect x="1188.31" y="1040.6" width="2.3" height="26.3" fill="#2D6AAA"/>
<rect x="1196.05" y="1040.6" width="2.3" height="26.3" fill="#2D6AAA"/>
<rect x="1203.79" y="1040.6" width="2.3" height="26.3" fill="#2D6AAA"/>
<rect x="1211.52" y="1040.6" width="2.3" height="26.3" fill="#2D6AAA"/>
<rect x="1219.26" y="1040.6" width="2.3" height="26.3" fill="#2D6AAA"/>
<rect x="1226.99" y="1040.6" width="2.3" height="26.3" fill="#2D6AAA"/>
<rect x="1234.73" y="1040.6" width="2.3" height="26.3" fill="#2D6AAA"/>
<rect x="1242.46" y="1040.6" width="2.3" height="26.3" fill="#2D6AAA"/>
<rect x="1250.2" y="1040.6" width="2.3" height="26.3" fill="#2D6AAA"/>
<rect x="1257.93" y="1040.6" width="2.3" height="26.3" fill="#2D6AAA"/>
<rect x="1265.67" y="1040.6" width="2.3" height="26.3" fill="#2D6AAA"/>
<rect x="1273.41" y="1040.6" width="2.3" height="26.3" fill="#2D6AAA"/>
<rect x="1281.14" y="1040.6" width="2.3" height="26.3" fill="#2D6AAA"/>
<rect x="1288.88" y="1040.6" width="2.3" height="26.3" fill="#2D6AAA"/>
<rect x="1296.61" y="1040.6" width="2.3" height="26.3" fill="#2D6AAA"/>
<rect x="1304.35" y="1040.6" width="2.3" height="26.3" fill="#2D6AAA"/>
<rect x="1312.08" y="1040.6" width="2.3" height="26.3" fill="#2D6AAA"/>
<rect x="1319.82" y="1040.6" width="2.3" height="26.3" fill="#2D6AAA"/>
<rect x="1327.55" y="1040.6" width="2.3" height="26.3" fill="#2D6AAA"/>
<rect x="1335.29" y="1040.6" width="2.3" height="26.3" fill="#2D6AAA"/>
<rect x="1343.03" y="1040.6" width="2.3" height="26.3" fill="#2D6AAA"/>
<rect x="1350.76" y="1040.6" width="2.3" height="26.3" fill="#2D6AAA"/>
<rect x="1358.5" y="1040.6" width="2.3" height="26.3" fill="#2D6AAA"/>
<rect x="1366.23" y="1040.6" width="2.3" height="26.3" fill="#2D6AAA"/>
<rect x="1373.97" y="1040.6" width="2.3" height="26.3" fill="#2D6AAA"/>
<rect x="1381.7" y="1040.6" width="2.3" height="26.3" fill="#2D6AAA"/>
<rect x="1389.44" y="1040.6" width="2.3" height="26.3" fill="#2D6AAA"/>
<rect x="1397.18" y="1040.6" width="2.3" height="26.3" fill="#2D6AAA"/>
<rect x="1404.91" y="1040.6" width="2.3" height="26.3" fill="#2D6AAA"/>
<rect x="1412.65" y="1040.6" width="2.3" height="26.3" fill="#2D6AAA"/>
<rect x="1420.38" y="1040.6" width="2.3" height="26.3" fill="#2D6AAA"/>
<rect x="1428.12" y="1040.6" width="2.3" height="26.3" fill="#2D6AAA"/>
<rect x="1435.85" y="1040.6" width="2.3" height="26.3" fill="#2D6AAA"/>
<rect x="1443.59" y="1040.6" width="2.3" height="26.3" fill="#2D6AAA"/>
<rect x="1451.32" y="1040.6" width="2.3" height="26.3" fill="#2D6AAA"/>
<rect x="1459.06" y="1040.6" width="2.3" height="26.3" fill="#2D6AAA"/>
<rect x="1466.8" y="1040.6" width="2.3" height="26.3" fill="#2D6AAA"/>
<rect x="1474.53" y="1040.6" width="2.3" height="26.3" fill="#2D6AAA"/>
<rect x="1482.27" y="1040.6" width="2.3" height="26.3" fill="#2D6AAA"/>
<rect x="1490" y="1040.6" width="2.3" height="26.3" fill="#2D6AAA"/>
<rect x="1497.74" y="1040.6" width="2.3" height="26.3" fill="#2D6AAA"/>
<rect x="1505.47" y="1040.6" width="2.3" height="26.3" fill="#2D6AAA"/>
<rect x="1513.21" y="1040.6" width="2.3" height="26.3" fill="#2D6AAA"/>
<rect x="1520.94" y="1040.6" width="2.3" height="26.3" fill="#2D6AAA"/>
<rect x="1528.68" y="1040.6" width="2.3" height="26.3" fill="#2D6AAA"/>
<rect x="1536.42" y="1040.6" width="2.3" height="26.3" fill="#2D6AAA"/>
<rect x="1544.15" y="1040.6" width="2.3" height="26.3" fill="#2D6AAA"/>
<rect x="1551.89" y="1040.6" width="2.3" height="26.3" fill="#2D6AAA"/>
<rect x="1559.62" y="1040.6" width="2.3" height="26.3" fill="#2D6AAA"/>
<rect x="1567.36" y="1040.6" width="2.3" height="26.3" fill="#2D6AAA"/>
<rect x="1575.09" y="1040.6" width="2.3" height="26.3" fill="#2D6AAA"/>
<rect x="1582.83" y="1040.6" width="2.3" height="26.3" fill="#2D6AAA"/>
<rect x="1590.57" y="1040.6" width="2.3" height="26.3" fill="#2D6AAA"/>
<rect x="1598.3" y="1040.6" width="2.3" height="26.3" fill="#2D6AAA"/>
<rect x="1606.04" y="1040.6" width="2.3" height="26.3" fill="#2D6AAA"/>
<rect x="1613.77" y="1040.6" width="2.3" height="26.3" fill="#2D6AAA"/>
<rect x="1621.51" y="1040.6" width="2.3" height="26.3" fill="#2D6AAA"/>
<rect x="1629.24" y="1040.6" width="2.3" height="26.3" fill="#2D6AAA"/>
<rect x="1636.98" y="1040.6" width="2.3" height="26.3" fill="#2D6AAA"/>
<rect x="1644.71" y="1040.6" width="2.3" height="26.3" fill="#2D6AAA"/>
<rect x="1652.45" y="1040.6" width="2.3" height="26.3" fill="#2D6AAA"/>
<rect x="1660.19" y="1040.6" width="2.3" height="26.3" fill="#2D6AAA"/>
<rect x="1667.92" y="1040.6" width="2.3" height="26.3" fill="#2D6AAA"/>
<rect x="1675.66" y="1040.6" width="2.3" height="26.3" fill="#2D6AAA"/>
<rect x="1683.39" y="1040.6" width="2.3" height="26.3" fill="#2D6AAA"/>
<rect x="1691.13" y="1040.6" width="2.3" height="26.3" fill="#2D6AAA"/>
<rect x="1698.86" y="1040.6" width="2.3" height="26.3" fill="#2D6AAA"/>
<rect x="1706.6" y="1040.6" width="2.3" height="26.3" fill="#2D6AAA"/>
<rect x="1714.33" y="1040.6" width="2.3" height="26.3" fill="#2D6AAA"/>
<rect x="1722.07" y="1040.6" width="2.3" height="26.3" fill="#2D6AAA"/>
<rect x="1729.81" y="1040.6" width="2.3" height="26.3" fill="#2D6AAA"/>
<rect x="1737.54" y="1040.6" width="2.3" height="26.3" fill="#2D6AAA"/>
<rect x="1745.28" y="1040.6" width="2.3" height="26.3" fill="#2D6AAA"/>
<rect x="1753.01" y="1040.6" width="2.3" height="26.3" fill="#2D6AAA"/>
<rect x="1760.75" y="1040.6" width="2.3" height="26.3" fill="#2D6AAA"/>
<rect x="1768.48" y="1040.6" width="2.3" height="26.3" fill="#2D6AAA"/>
<rect x="1776.22" y="1040.6" width="2.3" height="26.3" fill="#2D6AAA"/>
<rect x="1783.96" y="1040.6" width="2.3" height="26.3" fill="#2D6AAA"/>
</g>
<line x1="233.75" y1="1027.6" x2="233.75" y2="1078.7" stroke="#000" stroke-width="2.85"/>
<g font-size="23.47" text-anchor="end">
<text x="220.2" y="1061.85">lm</text>
</g>
<g clip-path="url(#cp2)"><text font-size="23.47" fill="#1A1A1A" text-anchor="middle" transform="translate(1874 1053.15) rotate(90)">model</text></g>
<g stroke="#E5E5E5" fill="none" stroke-linecap="butt">
<line x1="299.87" y1="1107.55" x2="299.87" y2="1286.38" stroke-width="2.85"/>
<line x1="493.26" y1="1107.55" x2="493.26" y2="1286.38" stroke-width="1.42"/>
<line x1="686.65" y1="1107.55" x2="686.65" y2="1286.38" stroke-width="2.85"/>
<line x1="880.04" y1="1107.55" x2="880.04" y2="1286.38" stroke-width="1.42"/>
<line x1="1073.43" y1="1107.55" x2="1073.43" y2="1286.38" stroke-width="2.85"/>
<line x1="1266.82" y1="1107.55" x2="1266.82" y2="1286.38" stroke-width="1.42"/>
<line x1="1460.21" y1="1107.55" x2="1460.21" y2="1286.38" stroke-width="2.85"/>
<line x1="1653.6" y1="1107.55" x2="1653.6" y2="1286.38" stroke-width="1.42"/>
<line x1="1846.99" y1="1107.55" x2="1846.99" y2="1286.38" stroke-width="2.85"/>
<line x1="234" y1="1133.1" x2="1859" y2="1133.1" stroke-width="2.85"/>
<line x1="234" y1="1175.68" x2="1859" y2="1175.68" stroke-width="2.85"/>
<line x1="234" y1="1218.26" x2="1859" y2="1218.26" stroke-width="2.85"/>
<line x1="234" y1="1260.84" x2="1859" y2="1260.84" stroke-width="2.85"/>
</g>
<g stroke="none">
<rect x="314.19" y="1120.55" width="2.3" height="26.3" fill="#D90016"/>
<rect x="337.4" y="1120.55" width="2.3" height="26.3" fill="#D90016"/>
<rect x="352.87" y="1120.55" width="2.3" height="26.3" fill="#D90016"/>
<rect x="360.6" y="1120.55" width="2.3" height="26.3" fill="#D90016"/>
<rect x="383.81" y="1120.55" width="2.3" height="26.3" fill="#D90016"/>
<rect x="391.55" y="1120.55" width="2.3" height="26.3" fill="#D90016"/>
<rect x="399.28" y="1120.55" width="2.3" height="26.3" fill="#D90016"/>
<rect x="422.49" y="1120.55" width="2.3" height="26.3" fill="#D90016"/>
<rect x="437.96" y="1120.55" width="2.3" height="26.3" fill="#D90016"/>
<rect x="461.17" y="1120.55" width="2.3" height="26.3" fill="#D90016"/>
<rect x="468.9" y="1120.55" width="2.3" height="26.3" fill="#D90016"/>
<rect x="608.14" y="1120.55" width="2.3" height="26.3" fill="#D90016"/>
<rect x="623.62" y="1120.55" width="2.3" height="26.3" fill="#999999"/>
<rect x="639.09" y="1120.55" width="2.3" height="26.3" fill="#D90016"/>
<rect x="685.5" y="1120.55" width="2.3" height="26.3" fill="#D90016"/>
<rect x="708.71" y="1120.55" width="2.3" height="26.3" fill="#D90016"/>
<rect x="747.38" y="1120.55" width="2.3" height="26.3" fill="#D90016"/>
<rect x="786.06" y="1120.55" width="2.3" height="26.3" fill="#999999"/>
<rect x="793.8" y="1120.55" width="2.3" height="26.3" fill="#999999"/>
<rect x="801.53" y="1120.55" width="2.3" height="26.3" fill="#999999"/>
<rect x="809.27" y="1120.55" width="2.3" height="26.3" fill="#999999"/>
<rect x="817.01" y="1120.55" width="2.3" height="26.3" fill="#999999"/>
<rect x="840.21" y="1120.55" width="2.3" height="26.3" fill="#999999"/>
<rect x="933.04" y="1120.55" width="2.3" height="26.3" fill="#999999"/>
<rect x="1080.02" y="1120.55" width="2.3" height="26.3" fill="#999999"/>
<rect x="1149.64" y="1120.55" width="2.3" height="26.3" fill="#2D6AAA"/>
<rect x="1165.11" y="1120.55" width="2.3" height="26.3" fill="#2D6AAA"/>
<rect x="1196.05" y="1120.55" width="2.3" height="26.3" fill="#2D6AAA"/>
<rect x="1226.99" y="1120.55" width="2.3" height="26.3" fill="#2D6AAA"/>
<rect x="1281.14" y="1120.55" width="2.3" height="26.3" fill="#2D6AAA"/>
<rect x="1312.08" y="1120.55" width="2.3" height="26.3" fill="#2D6AAA"/>
<rect x="1327.55" y="1120.55" width="2.3" height="26.3" fill="#2D6AAA"/>
<rect x="1343.03" y="1120.55" width="2.3" height="26.3" fill="#2D6AAA"/>
<rect x="1350.76" y="1120.55" width="2.3" height="26.3" fill="#2D6AAA"/>
<rect x="1373.97" y="1120.55" width="2.3" height="26.3" fill="#2D6AAA"/>
<rect x="1389.44" y="1120.55" width="2.3" height="26.3" fill="#2D6AAA"/>
<rect x="1443.59" y="1120.55" width="2.3" height="26.3" fill="#2D6AAA"/>
<rect x="1482.27" y="1120.55" width="2.3" height="26.3" fill="#2D6AAA"/>
<rect x="1582.83" y="1120.55" width="2.3" height="26.3" fill="#2D6AAA"/>
<rect x="1606.04" y="1120.55" width="2.3" height="26.3" fill="#2D6AAA"/>
<rect x="1629.24" y="1120.55" width="2.3" height="26.3" fill="#2D6AAA"/>
<rect x="1636.98" y="1120.55" width="2.3" height="26.3" fill="#2D6AAA"/>
<rect x="1652.45" y="1120.55" width="2.3" height="26.3" fill="#2D6AAA"/>
<rect x="1667.92" y="1120.55" width="2.3" height="26.3" fill="#2D6AAA"/>
<rect x="1722.07" y="1120.55" width="2.3" height="26.3" fill="#2D6AAA"/>
<rect x="1737.54" y="1120.55" width="2.3" height="26.3" fill="#2D6AAA"/>
<rect x="1768.48" y="1120.55" width="2.3" height="26.3" fill="#2D6AAA"/>
<rect x="1783.96" y="1120.55" width="2.3" height="26.3" fill="#2D6AAA"/>
<rect x="492.11" y="1163.13" width="2.3" height="26.3" fill="#D90016"/>
<rect x="499.85" y="1163.13" width="2.3" height="26.3" fill="#D90016"/>
<rect x="507.58" y="1163.13" width="2.3" height="26.3" fill="#D90016"/>
<rect x="530.79" y="1163.13" width="2.3" height="26.3" fill="#D90016"/>
<rect x="569.47" y="1163.13" width="2.3" height="26.3" fill="#D90016"/>
<rect x="592.67" y="1163.13" width="2.3" height="26.3" fill="#D90016"/>
<rect x="600.41" y="1163.13" width="2.3" height="26.3" fill="#D90016"/>
<rect x="615.88" y="1163.13" width="2.3" height="26.3" fill="#999999"/>
<rect x="631.35" y="1163.13" width="2.3" height="26.3" fill="#D90016"/>
<rect x="654.56" y="1163.13" width="2.3" height="26.3" fill="#D90016"/>
<rect x="700.97" y="1163.13" width="2.3" height="26.3" fill="#999999"/>
<rect x="724.18" y="1163.13" width="2.3" height="26.3" fill="#999999"/>
<rect x="847.95" y="1163.13" width="2.3" height="26.3" fill="#999999"/>
<rect x="871.15" y="1163.13" width="2.3" height="26.3" fill="#999999"/>
<rect x="878.89" y="1163.13" width="2.3" height="26.3" fill="#999999"/>
<rect x="886.63" y="1163.13" width="2.3" height="26.3" fill="#999999"/>
<rect x="909.83" y="1163.13" width="2.3" height="26.3" fill="#999999"/>
<rect x="925.3" y="1163.13" width="2.3" height="26.3" fill="#999999"/>
<rect x="940.77" y="1163.13" width="2.3" height="26.3" fill="#999999"/>
<rect x="948.51" y="1163.13" width="2.3" height="26.3" fill="#999999"/>
<rect x="1002.66" y="1163.13" width="2.3" height="26.3" fill="#999999"/>
<rect x="1010.4" y="1163.13" width="2.3" height="26.3" fill="#2D6AAA"/>
<rect x="1025.87" y="1163.13" width="2.3" height="26.3" fill="#999999"/>
<rect x="1056.81" y="1163.13" width="2.3" height="26.3" fill="#2D6AAA"/>
<rect x="1064.54" y="1163.13" width="2.3" height="26.3" fill="#999999"/>
<rect x="1134.16" y="1163.13" width="2.3" height="26.3" fill="#2D6AAA"/>
<rect x="1141.9" y="1163.13" width="2.3" height="26.3" fill="#2D6AAA"/>
<rect x="1157.37" y="1163.13" width="2.3" height="26.3" fill="#2D6AAA"/>
<rect x="1172.84" y="1163.13" width="2.3" height="26.3" fill="#2D6AAA"/>
<rect x="1250.2" y="1163.13" width="2.3" height="26.3" fill="#2D6AAA"/>
<rect x="1257.93" y="1163.13" width="2.3" height="26.3" fill="#2D6AAA"/>
<rect x="1273.41" y="1163.13" width="2.3" height="26.3" fill="#2D6AAA"/>
<rect x="1319.82" y="1163.13" width="2.3" height="26.3" fill="#2D6AAA"/>
<rect x="1335.29" y="1163.13" width="2.3" height="26.3" fill="#2D6AAA"/>
<rect x="1381.7" y="1163.13" width="2.3" height="26.3" fill="#2D6AAA"/>
<rect x="1404.91" y="1163.13" width="2.3" height="26.3" fill="#2D6AAA"/>
<rect x="1435.85" y="1163.13" width="2.3" height="26.3" fill="#2D6AAA"/>
<rect x="1474.53" y="1163.13" width="2.3" height="26.3" fill="#2D6AAA"/>
<rect x="1490" y="1163.13" width="2.3" height="26.3" fill="#2D6AAA"/>
<rect x="1559.62" y="1163.13" width="2.3" height="26.3" fill="#2D6AAA"/>
<rect x="1567.36" y="1163.13" width="2.3" height="26.3" fill="#2D6AAA"/>
<rect x="1590.57" y="1163.13" width="2.3" height="26.3" fill="#2D6AAA"/>
<rect x="1613.77" y="1163.13" width="2.3" height="26.3" fill="#2D6AAA"/>
<rect x="1644.71" y="1163.13" width="2.3" height="26.3" fill="#2D6AAA"/>
<rect x="1714.33" y="1163.13" width="2.3" height="26.3" fill="#2D6AAA"/>
<rect x="1729.81" y="1163.13" width="2.3" height="26.3" fill="#2D6AAA"/>
<rect x="1760.75" y="1163.13" width="2.3" height="26.3" fill="#2D6AAA"/>
<rect x="1776.22" y="1163.13" width="2.3" height="26.3" fill="#2D6AAA"/>
<rect x="445.7" y="1205.71" width="2.3" height="26.3" fill="#D90016"/>
<rect x="476.64" y="1205.71" width="2.3" height="26.3" fill="#D90016"/>
<rect x="515.32" y="1205.71" width="2.3" height="26.3" fill="#D90016"/>
<rect x="523.05" y="1205.71" width="2.3" height="26.3" fill="#D90016"/>
<rect x="538.52" y="1205.71" width="2.3" height="26.3" fill="#D90016"/>
<rect x="553.99" y="1205.71" width="2.3" height="26.3" fill="#D90016"/>
<rect x="561.73" y="1205.71" width="2.3" height="26.3" fill="#D90016"/>
<rect x="577.2" y="1205.71" width="2.3" height="26.3" fill="#D90016"/>
<rect x="646.82" y="1205.71" width="2.3" height="26.3" fill="#999999"/>
<rect x="662.29" y="1205.71" width="2.3" height="26.3" fill="#D90016"/>
<rect x="693.24" y="1205.71" width="2.3" height="26.3" fill="#999999"/>
<rect x="716.44" y="1205.71" width="2.3" height="26.3" fill="#999999"/>
<rect x="855.68" y="1205.71" width="2.3" height="26.3" fill="#999999"/>
<rect x="863.42" y="1205.71" width="2.3" height="26.3" fill="#999999"/>
<rect x="894.36" y="1205.71" width="2.3" height="26.3" fill="#999999"/>
<rect x="902.1" y="1205.71" width="2.3" height="26.3" fill="#999999"/>
<rect x="917.57" y="1205.71" width="2.3" height="26.3" fill="#999999"/>
<rect x="956.25" y="1205.71" width="2.3" height="26.3" fill="#999999"/>
<rect x="971.72" y="1205.71" width="2.3" height="26.3" fill="#999999"/>
<rect x="979.45" y="1205.71" width="2.3" height="26.3" fill="#999999"/>
<rect x="987.19" y="1205.71" width="2.3" height="26.3" fill="#999999"/>
<rect x="994.92" y="1205.71" width="2.3" height="26.3" fill="#999999"/>
<rect x="1018.13" y="1205.71" width="2.3" height="26.3" fill="#999999"/>
<rect x="1033.6" y="1205.71" width="2.3" height="26.3" fill="#999999"/>
<rect x="1049.07" y="1205.71" width="2.3" height="26.3" fill="#2D6AAA"/>
<rect x="1087.75" y="1205.71" width="2.3" height="26.3" fill="#2D6AAA"/>
<rect x="1103.22" y="1205.71" width="2.3" height="26.3" fill="#2D6AAA"/>
<rect x="1110.96" y="1205.71" width="2.3" height="26.3" fill="#2D6AAA"/>
<rect x="1126.43" y="1205.71" width="2.3" height="26.3" fill="#2D6AAA"/>
<rect x="1188.31" y="1205.71" width="2.3" height="26.3" fill="#2D6AAA"/>
<rect x="1203.79" y="1205.71" width="2.3" height="26.3" fill="#2D6AAA"/>
<rect x="1211.52" y="1205.71" width="2.3" height="26.3" fill="#2D6AAA"/>
<rect x="1242.46" y="1205.71" width="2.3" height="26.3" fill="#2D6AAA"/>
<rect x="1288.88" y="1205.71" width="2.3" height="26.3" fill="#2D6AAA"/>
<rect x="1366.23" y="1205.71" width="2.3" height="26.3" fill="#2D6AAA"/>
<rect x="1412.65" y="1205.71" width="2.3" height="26.3" fill="#2D6AAA"/>
<rect x="1420.38" y="1205.71" width="2.3" height="26.3" fill="#2D6AAA"/>
<rect x="1451.32" y="1205.71" width="2.3" height="26.3" fill="#2D6AAA"/>
<rect x="1466.8" y="1205.71" width="2.3" height="26.3" fill="#2D6AAA"/>
<rect x="1497.74" y="1205.71" width="2.3" height="26.3" fill="#2D6AAA"/>
<rect x="1505.47" y="1205.71" width="2.3" height="26.3" fill="#2D6AAA"/>
<rect x="1513.21" y="1205.71" width="2.3" height="26.3" fill="#2D6AAA"/>
<rect x="1528.68" y="1205.71" width="2.3" height="26.3" fill="#2D6AAA"/>
<rect x="1544.15" y="1205.71" width="2.3" height="26.3" fill="#2D6AAA"/>
<rect x="1660.19" y="1205.71" width="2.3" height="26.3" fill="#2D6AAA"/>
<rect x="1675.66" y="1205.71" width="2.3" height="26.3" fill="#2D6AAA"/>
<rect x="1698.86" y="1205.71" width="2.3" height="26.3" fill="#2D6AAA"/>
<rect x="1745.28" y="1205.71" width="2.3" height="26.3" fill="#2D6AAA"/>
<rect x="306.46" y="1248.29" width="2.3" height="26.3" fill="#D90016"/>
<rect x="321.93" y="1248.29" width="2.3" height="26.3" fill="#D90016"/>
<rect x="329.66" y="1248.29" width="2.3" height="26.3" fill="#D90016"/>
<rect x="345.13" y="1248.29" width="2.3" height="26.3" fill="#D90016"/>
<rect x="368.34" y="1248.29" width="2.3" height="26.3" fill="#D90016"/>
<rect x="376.08" y="1248.29" width="2.3" height="26.3" fill="#D90016"/>
<rect x="407.02" y="1248.29" width="2.3" height="26.3" fill="#D90016"/>
<rect x="414.75" y="1248.29" width="2.3" height="26.3" fill="#D90016"/>
<rect x="430.23" y="1248.29" width="2.3" height="26.3" fill="#D90016"/>
<rect x="453.43" y="1248.29" width="2.3" height="26.3" fill="#D90016"/>
<rect x="484.37" y="1248.29" width="2.3" height="26.3" fill="#D90016"/>
<rect x="546.26" y="1248.29" width="2.3" height="26.3" fill="#D90016"/>
<rect x="584.94" y="1248.29" width="2.3" height="26.3" fill="#D90016"/>
<rect x="670.03" y="1248.29" width="2.3" height="26.3" fill="#D90016"/>
<rect x="677.76" y="1248.29" width="2.3" height="26.3" fill="#D90016"/>
<rect x="731.91" y="1248.29" width="2.3" height="26.3" fill="#D90016"/>
<rect x="739.65" y="1248.29" width="2.3" height="26.3" fill="#D90016"/>
<rect x="755.12" y="1248.29" width="2.3" height="26.3" fill="#999999"/>
<rect x="762.86" y="1248.29" width="2.3" height="26.3" fill="#999999"/>
<rect x="770.59" y="1248.29" width="2.3" height="26.3" fill="#999999"/>
<rect x="778.33" y="1248.29" width="2.3" height="26.3" fill="#999999"/>
<rect x="824.74" y="1248.29" width="2.3" height="26.3" fill="#999999"/>
<rect x="832.48" y="1248.29" width="2.3" height="26.3" fill="#999999"/>
<rect x="963.98" y="1248.29" width="2.3" height="26.3" fill="#999999"/>
<rect x="1041.34" y="1248.29" width="2.3" height="26.3" fill="#999999"/>
<rect x="1072.28" y="1248.29" width="2.3" height="26.3" fill="#2D6AAA"/>
<rect x="1095.49" y="1248.29" width="2.3" height="26.3" fill="#2D6AAA"/>
<rect x="1118.69" y="1248.29" width="2.3" height="26.3" fill="#2D6AAA"/>
<rect x="1180.58" y="1248.29" width="2.3" height="26.3" fill="#2D6AAA"/>
<rect x="1219.26" y="1248.29" width="2.3" height="26.3" fill="#2D6AAA"/>
<rect x="1234.73" y="1248.29" width="2.3" height="26.3" fill="#2D6AAA"/>
<rect x="1265.67" y="1248.29" width="2.3" height="26.3" fill="#2D6AAA"/>
<rect x="1296.61" y="1248.29" width="2.3" height="26.3" fill="#2D6AAA"/>
<rect x="1304.35" y="1248.29" width="2.3" height="26.3" fill="#2D6AAA"/>
<rect x="1358.5" y="1248.29" width="2.3" height="26.3" fill="#2D6AAA"/>
<rect x="1397.18" y="1248.29" width="2.3" height="26.3" fill="#2D6AAA"/>
<rect x="1428.12" y="1248.29" width="2.3" height="26.3" fill="#2D6AAA"/>
<rect x="1459.06" y="1248.29" width="2.3" height="26.3" fill="#2D6AAA"/>
<rect x="1520.94" y="1248.29" width="2.3" height="26.3" fill="#2D6AAA"/>
<rect x="1536.42" y="1248.29" width="2.3" height="26.3" fill="#2D6AAA"/>
<rect x="1551.89" y="1248.29" width="2.3" height="26.3" fill="#2D6AAA"/>
<rect x="1575.09" y="1248.29" width="2.3" height="26.3" fill="#2D6AAA"/>
<rect x="1598.3" y="1248.29" width="2.3" height="26.3" fill="#2D6AAA"/>
<rect x="1621.51" y="1248.29" width="2.3" height="26.3" fill="#2D6AAA"/>
<rect x="1683.39" y="1248.29" width="2.3" height="26.3" fill="#2D6AAA"/>
<rect x="1691.13" y="1248.29" width="2.3" height="26.3" fill="#2D6AAA"/>
<rect x="1706.6" y="1248.29" width="2.3" height="26.3" fill="#2D6AAA"/>
<rect x="1753.01" y="1248.29" width="2.3" height="26.3" fill="#2D6AAA"/>
</g>
<line x1="233.75" y1="1107.55" x2="233.75" y2="1286.38" stroke="#000" stroke-width="2.85"/>
<g font-size="23.47" text-anchor="end">
<text x="220.2" y="1141.8">no covariates</text>
<text x="220.2" y="1184.38">c2</text>
<text x="220.2" y="1226.96">c1 + c2</text>
<text x="220.2" y="1269.54">c1</text>
</g>
<g clip-path="url(#cp3)"><text font-size="23.47" fill="#1A1A1A" text-anchor="middle" transform="translate(1874 1196.97) rotate(90)">controls</text></g>
<g stroke="#E5E5E5" fill="none" stroke-linecap="butt">
<line x1="299.87" y1="1315.23" x2="299.87" y2="1834.71" stroke-width="2.85"/>
<line x1="493.26" y1="1315.23" x2="493.26" y2="1834.71" stroke-width="1.42"/>
<line x1="686.65" y1="1315.23" x2="686.65" y2="1834.71" stroke-width="2.85"/>
<line x1="880.04" y1="1315.23" x2="880.04" y2="1834.71" stroke-width="1.42"/>
<line x1="1073.43" y1="1315.23" x2="1073.43" y2="1834.71" stroke-width="2.85"/>
<line x1="1266.82" y1="1315.23" x2="1266.82" y2="1834.71" stroke-width="1.42"/>
<line x1="1460.21" y1="1315.23" x2="1460.21" y2="1834.71" stroke-width="2.85"/>
<line x1="1653.6" y1="1315.23" x2="1653.6" y2="1834.71" stroke-width="1.42"/>
<line x1="1846.99" y1="1315.23" x2="1846.99" y2="1834.71" stroke-width="2.85"/>
<line x1="234" y1="1340.78" x2="1859" y2="1340.78" stroke-width="2.85"/>
<line x1="234" y1="1383.36" x2="1859" y2="1383.36" stroke-width="2.85"/>
<line x1="234" y1="1425.94" x2="1859" y2="1425.94" stroke-width="2.85"/>
<line x1="234" y1="1468.52" x2="1859" y2="1468.52" stroke-width="2.85"/>
<line x1="234" y1="1511.1" x2="1859" y2="1511.1" stroke-width="2.85"/>
<line x1="234" y1="1553.68" x2="1859" y2="1553.68" stroke-width="2.85"/>
<line x1="234" y1="1596.26" x2="1859" y2="1596.26" stroke-width="2.85"/>
<line x1="234" y1="1638.84" x2="1859" y2="1638.84" stroke-width="2.85"/>
<line x1="234" y1="1681.42" x2="1859" y2="1681.42" stroke-width="2.85"/>
<line x1="234" y1="1724" x2="1859" y2="1724" stroke-width="2.85"/>
<line x1="234" y1="1766.58" x2="1859" y2="1766.58" stroke-width="2.85"/>
<line x1="234" y1="1809.16" x2="1859" y2="1809.16" stroke-width="2.85"/>
</g>
<g stroke="none">
<rect x="422.49" y="1328.23" width="2.3" height="26.3" fill="#D90016"/>
<rect x="484.37" y="1328.23" width="2.3" height="26.3" fill="#D90016"/>
<rect x="608.14" y="1328.23" width="2.3" height="26.3" fill="#D90016"/>
<rect x="670.03" y="1328.23" width="2.3" height="26.3" fill="#D90016"/>
<rect x="700.97" y="1328.23" width="2.3" height="26.3" fill="#999999"/>
<rect x="716.44" y="1328.23" width="2.3" height="26.3" fill="#999999"/>
<rect x="847.95" y="1328.23" width="2.3" height="26.3" fill="#999999"/>
<rect x="863.42" y="1328.23" width="2.3" height="26.3" fill="#999999"/>
<rect x="1103.22" y="1328.23" width="2.3" height="26.3" fill="#2D6AAA"/>
<rect x="1118.69" y="1328.23" width="2.3" height="26.3" fill="#2D6AAA"/>
<rect x="1157.37" y="1328.23" width="2.3" height="26.3" fill="#2D6AAA"/>
<rect x="1196.05" y="1328.23" width="2.3" height="26.3" fill="#2D6AAA"/>
<rect x="1729.81" y="1328.23" width="2.3" height="26.3" fill="#2D6AAA"/>
<rect x="1737.54" y="1328.23" width="2.3" height="26.3" fill="#2D6AAA"/>
<rect x="1745.28" y="1328.23" width="2.3" height="26.3" fill="#2D6AAA"/>
<rect x="1753.01" y="1328.23" width="2.3" height="26.3" fill="#2D6AAA"/>
<rect x="376.08" y="1370.81" width="2.3" height="26.3" fill="#D90016"/>
<rect x="383.81" y="1370.81" width="2.3" height="26.3" fill="#D90016"/>
<rect x="507.58" y="1370.81" width="2.3" height="26.3" fill="#D90016"/>
<rect x="515.32" y="1370.81" width="2.3" height="26.3" fill="#D90016"/>
<rect x="817.01" y="1370.81" width="2.3" height="26.3" fill="#999999"/>
<rect x="824.74" y="1370.81" width="2.3" height="26.3" fill="#999999"/>
<rect x="925.3" y="1370.81" width="2.3" height="26.3" fill="#999999"/>
<rect x="979.45" y="1370.81" width="2.3" height="26.3" fill="#999999"/>
<rect x="1049.07" y="1370.81" width="2.3" height="26.3" fill="#2D6AAA"/>
<rect x="1072.28" y="1370.81" width="2.3" height="26.3" fill="#2D6AAA"/>
<rect x="1134.16" y="1370.81" width="2.3" height="26.3" fill="#2D6AAA"/>
<rect x="1149.64" y="1370.81" width="2.3" height="26.3" fill="#2D6AAA"/>
<rect x="1420.38" y="1370.81" width="2.3" height="26.3" fill="#2D6AAA"/>
<rect x="1428.12" y="1370.81" width="2.3" height="26.3" fill="#2D6AAA"/>
<rect x="1435.85" y="1370.81" width="2.3" height="26.3" fill="#2D6AAA"/>
<rect x="1443.59" y="1370.81" width="2.3" height="26.3" fill="#2D6AAA"/>
<rect x="399.28" y="1413.39" width="2.3" height="26.3" fill="#D90016"/>
<rect x="430.23" y="1413.39" width="2.3" height="26.3" fill="#D90016"/>
<rect x="654.56" y="1413.39" width="2.3" height="26.3" fill="#D90016"/>
<rect x="662.29" y="1413.39" width="2.3" height="26.3" fill="#D90016"/>
<rect x="708.71" y="1413.39" width="2.3" height="26.3" fill="#D90016"/>
<rect x="731.91" y="1413.39" width="2.3" height="26.3" fill="#D90016"/>
<rect x="878.89" y="1413.39" width="2.3" height="26.3" fill="#999999"/>
<rect x="902.1" y="1413.39" width="2.3" height="26.3" fill="#999999"/>
<rect x="1087.75" y="1413.39" width="2.3" height="26.3" fill="#2D6AAA"/>
<rect x="1095.49" y="1413.39" width="2.3" height="26.3" fill="#2D6AAA"/>
<rect x="1141.9" y="1413.39" width="2.3" height="26.3" fill="#2D6AAA"/>
<rect x="1165.11" y="1413.39" width="2.3" height="26.3" fill="#2D6AAA"/>
<rect x="1451.32" y="1413.39" width="2.3" height="26.3" fill="#2D6AAA"/>
<rect x="1459.06" y="1413.39" width="2.3" height="26.3" fill="#2D6AAA"/>
<rect x="1474.53" y="1413.39" width="2.3" height="26.3" fill="#2D6AAA"/>
<rect x="1482.27" y="1413.39" width="2.3" height="26.3" fill="#2D6AAA"/>
<rect x="321.93" y="1455.97" width="2.3" height="26.3" fill="#D90016"/>
<rect x="337.4" y="1455.97" width="2.3" height="26.3" fill="#D90016"/>
<rect x="476.64" y="1455.97" width="2.3" height="26.3" fill="#D90016"/>
<rect x="499.85" y="1455.97" width="2.3" height="26.3" fill="#D90016"/>
<rect x="770.59" y="1455.97" width="2.3" height="26.3" fill="#999999"/>
<rect x="809.27" y="1455.97" width="2.3" height="26.3" fill="#999999"/>
<rect x="1002.66" y="1455.97" width="2.3" height="26.3" fill="#999999"/>
<rect x="1018.13" y="1455.97" width="2.3" height="26.3" fill="#999999"/>
<rect x="1203.79" y="1455.97" width="2.3" height="26.3" fill="#2D6AAA"/>
<rect x="1219.26" y="1455.97" width="2.3" height="26.3" fill="#2D6AAA"/>
<rect x="1319.82" y="1455.97" width="2.3" height="26.3" fill="#2D6AAA"/>
<rect x="1327.55" y="1455.97" width="2.3" height="26.3" fill="#2D6AAA"/>
<rect x="1675.66" y="1455.97" width="2.3" height="26.3" fill="#2D6AAA"/>
<rect x="1691.13" y="1455.97" width="2.3" height="26.3" fill="#2D6AAA"/>
<rect x="1776.22" y="1455.97" width="2.3" height="26.3" fill="#2D6AAA"/>
<rect x="1783.96" y="1455.97" width="2.3" height="26.3" fill="#2D6AAA"/>
<rect x="546.26" y="1498.55" width="2.3" height="26.3" fill="#D90016"/>
<rect x="623.62" y="1498.55" width="2.3" height="26.3" fill="#999999"/>
<rect x="693.24" y="1498.55" width="2.3" height="26.3" fill="#999999"/>
<rect x="724.18" y="1498.55" width="2.3" height="26.3" fill="#999999"/>
<rect x="755.12" y="1498.55" width="2.3" height="26.3" fill="#999999"/>
<rect x="793.8" y="1498.55" width="2.3" height="26.3" fill="#999999"/>
<rect x="956.25" y="1498.55" width="2.3" height="26.3" fill="#999999"/>
<rect x="1025.87" y="1498.55" width="2.3" height="26.3" fill="#999999"/>
<rect x="1389.44" y="1498.55" width="2.3" height="26.3" fill="#2D6AAA"/>
<rect x="1397.18" y="1498.55" width="2.3" height="26.3" fill="#2D6AAA"/>
<rect x="1404.91" y="1498.55" width="2.3" height="26.3" fill="#2D6AAA"/>
<rect x="1412.65" y="1498.55" width="2.3" height="26.3" fill="#2D6AAA"/>
<rect x="1698.86" y="1498.55" width="2.3" height="26.3" fill="#2D6AAA"/>
<rect x="1706.6" y="1498.55" width="2.3" height="26.3" fill="#2D6AAA"/>
<rect x="1714.33" y="1498.55" width="2.3" height="26.3" fill="#2D6AAA"/>
<rect x="1722.07" y="1498.55" width="2.3" height="26.3" fill="#2D6AAA"/>
<rect x="414.75" y="1541.13" width="2.3" height="26.3" fill="#D90016"/>
<rect x="468.9" y="1541.13" width="2.3" height="26.3" fill="#D90016"/>
<rect x="561.73" y="1541.13" width="2.3" height="26.3" fill="#D90016"/>
<rect x="631.35" y="1541.13" width="2.3" height="26.3" fill="#D90016"/>
<rect x="762.86" y="1541.13" width="2.3" height="26.3" fill="#999999"/>
<rect x="801.53" y="1541.13" width="2.3" height="26.3" fill="#999999"/>
<rect x="987.19" y="1541.13" width="2.3" height="26.3" fill="#999999"/>
<rect x="1010.4" y="1541.13" width="2.3" height="26.3" fill="#2D6AAA"/>
<rect x="1358.5" y="1541.13" width="2.3" height="26.3" fill="#2D6AAA"/>
<rect x="1366.23" y="1541.13" width="2.3" height="26.3" fill="#2D6AAA"/>
<rect x="1373.97" y="1541.13" width="2.3" height="26.3" fill="#2D6AAA"/>
<rect x="1381.7" y="1541.13" width="2.3" height="26.3" fill="#2D6AAA"/>
<rect x="1660.19" y="1541.13" width="2.3" height="26.3" fill="#2D6AAA"/>
<rect x="1683.39" y="1541.13" width="2.3" height="26.3" fill="#2D6AAA"/>
<rect x="1760.75" y="1541.13" width="2.3" height="26.3" fill="#2D6AAA"/>
<rect x="1768.48" y="1541.13" width="2.3" height="26.3" fill="#2D6AAA"/>
<rect x="306.46" y="1583.71" width="2.3" height="26.3" fill="#D90016"/>
<rect x="314.19" y="1583.71" width="2.3" height="26.3" fill="#D90016"/>
<rect x="445.7" y="1583.71" width="2.3" height="26.3" fill="#D90016"/>
<rect x="492.11" y="1583.71" width="2.3" height="26.3" fill="#D90016"/>
<rect x="584.94" y="1583.71" width="2.3" height="26.3" fill="#D90016"/>
<rect x="639.09" y="1583.71" width="2.3" height="26.3" fill="#D90016"/>
<rect x="855.68" y="1583.71" width="2.3" height="26.3" fill="#999999"/>
<rect x="871.15" y="1583.71" width="2.3" height="26.3" fill="#999999"/>
<rect x="1211.52" y="1583.71" width="2.3" height="26.3" fill="#2D6AAA"/>
<rect x="1257.93" y="1583.71" width="2.3" height="26.3" fill="#2D6AAA"/>
<rect x="1296.61" y="1583.71" width="2.3" height="26.3" fill="#2D6AAA"/>
<rect x="1350.76" y="1583.71" width="2.3" height="26.3" fill="#2D6AAA"/>
<rect x="1466.8" y="1583.71" width="2.3" height="26.3" fill="#2D6AAA"/>
<rect x="1490" y="1583.71" width="2.3" height="26.3" fill="#2D6AAA"/>
<rect x="1551.89" y="1583.71" width="2.3" height="26.3" fill="#2D6AAA"/>
<rect x="1636.98" y="1583.71" width="2.3" height="26.3" fill="#2D6AAA"/>
<rect x="453.43" y="1626.29" width="2.3" height="26.3" fill="#D90016"/>
<rect x="461.17" y="1626.29" width="2.3" height="26.3" fill="#D90016"/>
<rect x="615.88" y="1626.29" width="2.3" height="26.3" fill="#999999"/>
<rect x="646.82" y="1626.29" width="2.3" height="26.3" fill="#999999"/>
<rect x="933.04" y="1626.29" width="2.3" height="26.3" fill="#999999"/>
<rect x="963.98" y="1626.29" width="2.3" height="26.3" fill="#999999"/>
<rect x="1033.6" y="1626.29" width="2.3" height="26.3" fill="#999999"/>
<rect x="1041.34" y="1626.29" width="2.3" height="26.3" fill="#999999"/>
<rect x="1056.81" y="1626.29" width="2.3" height="26.3" fill="#2D6AAA"/>
<rect x="1064.54" y="1626.29" width="2.3" height="26.3" fill="#999999"/>
<rect x="1080.02" y="1626.29" width="2.3" height="26.3" fill="#999999"/>
<rect x="1126.43" y="1626.29" width="2.3" height="26.3" fill="#2D6AAA"/>
<rect x="1505.47" y="1626.29" width="2.3" height="26.3" fill="#2D6AAA"/>
<rect x="1520.94" y="1626.29" width="2.3" height="26.3" fill="#2D6AAA"/>
<rect x="1567.36" y="1626.29" width="2.3" height="26.3" fill="#2D6AAA"/>
<rect x="1582.83" y="1626.29" width="2.3" height="26.3" fill="#2D6AAA"/>
<rect x="329.66" y="1668.87" width="2.3" height="26.3" fill="#D90016"/>
<rect x="352.87" y="1668.87" width="2.3" height="26.3" fill="#D90016"/>
<rect x="523.05" y="1668.87" width="2.3" height="26.3" fill="#D90016"/>
<rect x="530.79" y="1668.87" width="2.3" height="26.3" fill="#D90016"/>
<rect x="778.33" y="1668.87" width="2.3" height="26.3" fill="#999999"/>
<rect x="786.06" y="1668.87" width="2.3" height="26.3" fill="#999999"/>
<rect x="940.77" y="1668.87" width="2.3" height="26.3" fill="#999999"/>
<rect x="994.92" y="1668.87" width="2.3" height="26.3" fill="#999999"/>
<rect x="1110.96" y="1668.87" width="2.3" height="26.3" fill="#2D6AAA"/>
<rect x="1172.84" y="1668.87" width="2.3" height="26.3" fill="#2D6AAA"/>
<rect x="1180.58" y="1668.87" width="2.3" height="26.3" fill="#2D6AAA"/>
<rect x="1226.99" y="1668.87" width="2.3" height="26.3" fill="#2D6AAA"/>
<rect x="1497.74" y="1668.87" width="2.3" height="26.3" fill="#2D6AAA"/>
<rect x="1559.62" y="1668.87" width="2.3" height="26.3" fill="#2D6AAA"/>
<rect x="1575.09" y="1668.87" width="2.3" height="26.3" fill="#2D6AAA"/>
<rect x="1629.24" y="1668.87" width="2.3" height="26.3" fill="#2D6AAA"/>
<rect x="345.13" y="1711.45" width="2.3" height="26.3" fill="#D90016"/>
<rect x="360.6" y="1711.45" width="2.3" height="26.3" fill="#D90016"/>
<rect x="577.2" y="1711.45" width="2.3" height="26.3" fill="#D90016"/>
<rect x="600.41" y="1711.45" width="2.3" height="26.3" fill="#D90016"/>
<rect x="677.76" y="1711.45" width="2.3" height="26.3" fill="#D90016"/>
<rect x="685.5" y="1711.45" width="2.3" height="26.3" fill="#D90016"/>
<rect x="886.63" y="1711.45" width="2.3" height="26.3" fill="#999999"/>
<rect x="894.36" y="1711.45" width="2.3" height="26.3" fill="#999999"/>
<rect x="1188.31" y="1711.45" width="2.3" height="26.3" fill="#2D6AAA"/>
<rect x="1234.73" y="1711.45" width="2.3" height="26.3" fill="#2D6AAA"/>
<rect x="1250.2" y="1711.45" width="2.3" height="26.3" fill="#2D6AAA"/>
<rect x="1281.14" y="1711.45" width="2.3" height="26.3" fill="#2D6AAA"/>
<rect x="1544.15" y="1711.45" width="2.3" height="26.3" fill="#2D6AAA"/>
<rect x="1621.51" y="1711.45" width="2.3" height="26.3" fill="#2D6AAA"/>
<rect x="1644.71" y="1711.45" width="2.3" height="26.3" fill="#2D6AAA"/>
<rect x="1667.92" y="1711.45" width="2.3" height="26.3" fill="#2D6AAA"/>
<rect x="407.02" y="1754.03" width="2.3" height="26.3" fill="#D90016"/>
<rect x="437.96" y="1754.03" width="2.3" height="26.3" fill="#D90016"/>
<rect x="538.52" y="1754.03" width="2.3" height="26.3" fill="#D90016"/>
<rect x="569.47" y="1754.03" width="2.3" height="26.3" fill="#D90016"/>
<rect x="832.48" y="1754.03" width="2.3" height="26.3" fill="#999999"/>
<rect x="840.21" y="1754.03" width="2.3" height="26.3" fill="#999999"/>
<rect x="948.51" y="1754.03" width="2.3" height="26.3" fill="#999999"/>
<rect x="971.72" y="1754.03" width="2.3" height="26.3" fill="#999999"/>
<rect x="1288.88" y="1754.03" width="2.3" height="26.3" fill="#2D6AAA"/>
<rect x="1304.35" y="1754.03" width="2.3" height="26.3" fill="#2D6AAA"/>
<rect x="1335.29" y="1754.03" width="2.3" height="26.3" fill="#2D6AAA"/>
<rect x="1343.03" y="1754.03" width="2.3" height="26.3" fill="#2D6AAA"/>
<rect x="1513.21" y="1754.03" width="2.3" height="26.3" fill="#2D6AAA"/>
<rect x="1536.42" y="1754.03" width="2.3" height="26.3" fill="#2D6AAA"/>
<rect x="1590.57" y="1754.03" width="2.3" height="26.3" fill="#2D6AAA"/>
<rect x="1606.04" y="1754.03" width="2.3" height="26.3" fill="#2D6AAA"/>
<rect x="368.34" y="1796.61" width="2.3" height="26.3" fill="#D90016"/>
<rect x="391.55" y="1796.61" width="2.3" height="26.3" fill="#D90016"/>
<rect x="553.99" y="1796.61" width="2.3" height="26.3" fill="#D90016"/>
<rect x="592.67" y="1796.61" width="2.3" height="26.3" fill="#D90016"/>
<rect x="739.65" y="1796.61" width="2.3" height="26.3" fill="#D90016"/>
<rect x="747.38" y="1796.61" width="2.3" height="26.3" fill="#D90016"/>
<rect x="909.83" y="1796.61" width="2.3" height="26.3" fill="#999999"/>
<rect x="917.57" y="1796.61" width="2.3" height="26.3" fill="#999999"/>
<rect x="1242.46" y="1796.61" width="2.3" height="26.3" fill="#2D6AAA"/>
<rect x="1265.67" y="1796.61" width="2.3" height="26.3" fill="#2D6AAA"/>
<rect x="1273.41" y="1796.61" width="2.3" height="26.3" fill="#2D6AAA"/>
<rect x="1312.08" y="1796.61" width="2.3" height="26.3" fill="#2D6AAA"/>
<rect x="1528.68" y="1796.61" width="2.3" height="26.3" fill="#2D6AAA"/>
<rect x="1598.3" y="1796.61" width="2.3" height="26.3" fill="#2D6AAA"/>
<rect x="1613.77" y="1796.61" width="2.3" height="26.3" fill="#2D6AAA"/>
<rect x="1652.45" y="1796.61" width="2.3" height="26.3" fill="#2D6AAA"/>
</g>
<line x1="233.75" y1="1315.23" x2="233.75" y2="1834.71" stroke="#000" stroke-width="2.85"/>
<g font-size="23.47" text-anchor="end">
<text x="220.2" y="1349.48">young &amp; male</text>
<text x="220.2" y="1392.06">young &amp; female</text>
<text x="220.2" y="1434.64">young</text>
<text x="220.2" y="1477.22">old &amp; male</text>
<text x="220.2" y="1519.8">old &amp; female</text>
<text x="220.2" y="1562.38">old</text>
<text x="220.2" y="1604.96">middle &amp; male</text>
<text x="220.2" y="1647.54">middle &amp; female</text>
<text x="220.2" y="1690.12">middle</text>
<text x="220.2" y="1732.7">male</text>
<text x="220.2" y="1775.28">female</text>
<text x="220.2" y="1817.86">all</text>
</g>
<g clip-path="url(#cp4)"><text font-size="23.47" fill="#1A1A1A" text-anchor="middle" transform="translate(1874 1574.97) rotate(90)">subsets</text></g>
<line x1="233.75" y1="1834.71" x2="1859" y2="1834.71" stroke="#000" stroke-width="2.85"/>
<g font-size="23.47" text-anchor="middle">
<text x="299.87" y="1864.8">0</text>
<text x="686.65" y="1864.8">50</text>
<text x="1073.43" y="1864.8">100</text>
<text x="1460.21" y="1864.8">150</text>
<text x="1846.99" y="1864.8">200</text>
</g>
</svg></body></html>
